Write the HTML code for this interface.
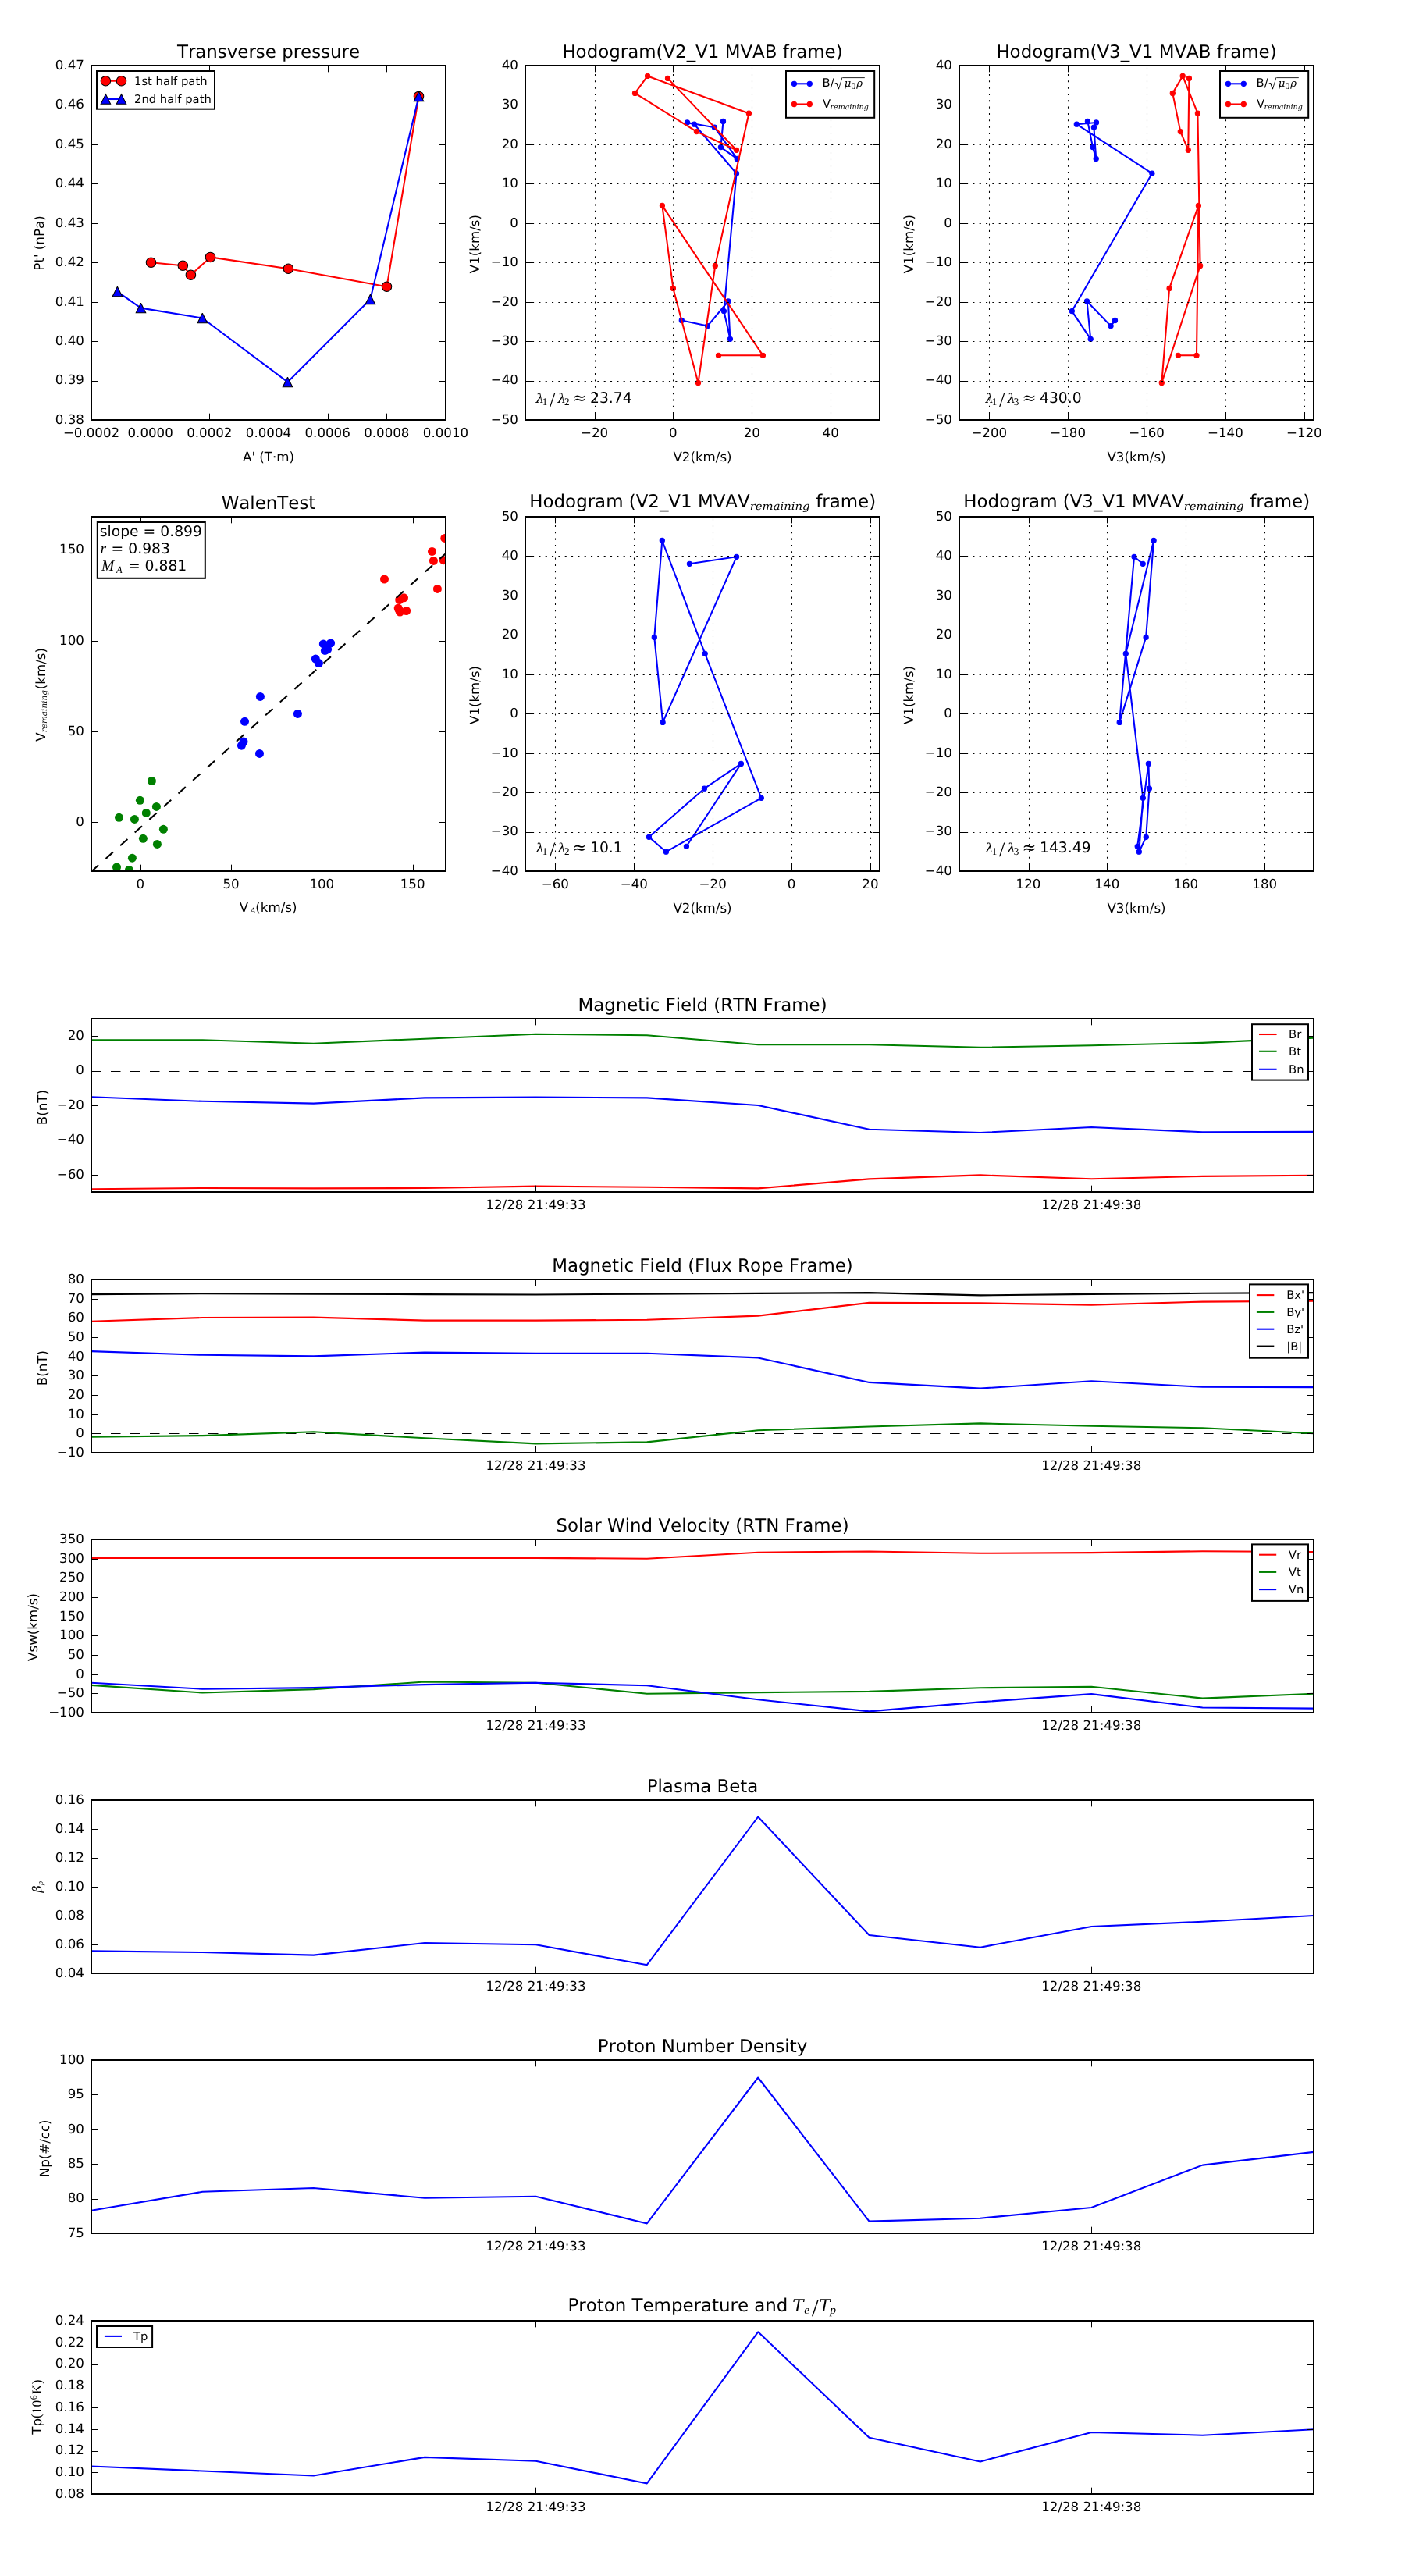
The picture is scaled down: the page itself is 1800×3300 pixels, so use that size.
<!DOCTYPE html>
<html><head><meta charset="utf-8"><title>Flux rope analysis</title><style>html,body{margin:0;padding:0;background:#fff;}svg{display:block;will-change:transform;font-kerning:none;}</style></head><body>
<svg xmlns="http://www.w3.org/2000/svg" width="1800" height="3300" viewBox="0 0 1800 3300" font-family="'DejaVu Sans', 'Liberation Sans', sans-serif" fill="#000" text-rendering="geometricPrecision">
<rect x="0" y="0" width="1800" height="3300" fill="#fff"/>
<clipPath id="c1"><rect x="117" y="84" width="454" height="454"/></clipPath>
<polyline points="193.5,336.3 234.3,340.3 244.4,352.3 269.5,329.4 369.4,344.3 495.5,367.3 536.5,123.4" fill="none" stroke="#ff0000" stroke-width="2.08" stroke-linejoin="round" stroke-linecap="butt" clip-path="url(#c1)"/>
<circle cx="193.5" cy="336.3" r="6.25" fill="#ff0000" stroke="#000" stroke-width="1.04"/>
<circle cx="234.3" cy="340.3" r="6.25" fill="#ff0000" stroke="#000" stroke-width="1.04"/>
<circle cx="244.4" cy="352.3" r="6.25" fill="#ff0000" stroke="#000" stroke-width="1.04"/>
<circle cx="269.5" cy="329.4" r="6.25" fill="#ff0000" stroke="#000" stroke-width="1.04"/>
<circle cx="369.4" cy="344.3" r="6.25" fill="#ff0000" stroke="#000" stroke-width="1.04"/>
<circle cx="495.5" cy="367.3" r="6.25" fill="#ff0000" stroke="#000" stroke-width="1.04"/>
<circle cx="536.5" cy="123.4" r="6.25" fill="#ff0000" stroke="#000" stroke-width="1.04"/>
<polyline points="150.4,373.6 180.5,394.6 259.3,407.5 368.5,489.4 474.4,383.5 536.5,123.4" fill="none" stroke="#0000ff" stroke-width="2.08" stroke-linejoin="round" stroke-linecap="butt" clip-path="url(#c1)"/>
<path d="M150.4,367.35 L144.15,379.85 L156.65,379.85 Z" fill="#0000ff" stroke="#000" stroke-width="1.04" stroke-linejoin="miter" stroke-miterlimit="2"/>
<path d="M180.5,388.35 L174.25,400.85 L186.75,400.85 Z" fill="#0000ff" stroke="#000" stroke-width="1.04" stroke-linejoin="miter" stroke-miterlimit="2"/>
<path d="M259.3,401.25 L253.05,413.75 L265.55,413.75 Z" fill="#0000ff" stroke="#000" stroke-width="1.04" stroke-linejoin="miter" stroke-miterlimit="2"/>
<path d="M368.5,483.15 L362.25,495.65 L374.75,495.65 Z" fill="#0000ff" stroke="#000" stroke-width="1.04" stroke-linejoin="miter" stroke-miterlimit="2"/>
<path d="M474.4,377.25 L468.15,389.75 L480.65,389.75 Z" fill="#0000ff" stroke="#000" stroke-width="1.04" stroke-linejoin="miter" stroke-miterlimit="2"/>
<path d="M536.5,117.15 L530.25,129.65 L542.75,129.65 Z" fill="#0000ff" stroke="#000" stroke-width="1.04" stroke-linejoin="miter" stroke-miterlimit="2"/>
<rect x="117" y="84" width="454" height="454" fill="none" stroke="#000" stroke-width="2"/>
<line x1="117" y1="538.5" x2="125.33" y2="538.5" stroke="#000000" stroke-width="1.04"/>
<line x1="571" y1="538.5" x2="562.67" y2="538.5" stroke="#000000" stroke-width="1.04"/>
<text x="107.9" y="542.85" font-size="16.67" text-anchor="end">0.38</text>
<line x1="117" y1="488.5" x2="125.33" y2="488.5" stroke="#000000" stroke-width="1.04"/>
<line x1="571" y1="488.5" x2="562.67" y2="488.5" stroke="#000000" stroke-width="1.04"/>
<text x="107.9" y="492.41" font-size="16.67" text-anchor="end">0.39</text>
<line x1="117" y1="437.5" x2="125.33" y2="437.5" stroke="#000000" stroke-width="1.04"/>
<line x1="571" y1="437.5" x2="562.67" y2="437.5" stroke="#000000" stroke-width="1.04"/>
<text x="107.9" y="441.96" font-size="16.67" text-anchor="end">0.40</text>
<line x1="117" y1="387.5" x2="125.33" y2="387.5" stroke="#000000" stroke-width="1.04"/>
<line x1="571" y1="387.5" x2="562.67" y2="387.5" stroke="#000000" stroke-width="1.04"/>
<text x="107.9" y="391.52" font-size="16.67" text-anchor="end">0.41</text>
<line x1="117" y1="336.5" x2="125.33" y2="336.5" stroke="#000000" stroke-width="1.04"/>
<line x1="571" y1="336.5" x2="562.67" y2="336.5" stroke="#000000" stroke-width="1.04"/>
<text x="107.9" y="341.07" font-size="16.67" text-anchor="end">0.42</text>
<line x1="117" y1="286.5" x2="125.33" y2="286.5" stroke="#000000" stroke-width="1.04"/>
<line x1="571" y1="286.5" x2="562.67" y2="286.5" stroke="#000000" stroke-width="1.04"/>
<text x="107.9" y="290.63" font-size="16.67" text-anchor="end">0.43</text>
<line x1="117" y1="235.5" x2="125.33" y2="235.5" stroke="#000000" stroke-width="1.04"/>
<line x1="571" y1="235.5" x2="562.67" y2="235.5" stroke="#000000" stroke-width="1.04"/>
<text x="107.9" y="240.18" font-size="16.67" text-anchor="end">0.44</text>
<line x1="117" y1="185.5" x2="125.33" y2="185.5" stroke="#000000" stroke-width="1.04"/>
<line x1="571" y1="185.5" x2="562.67" y2="185.5" stroke="#000000" stroke-width="1.04"/>
<text x="107.9" y="189.74" font-size="16.67" text-anchor="end">0.45</text>
<line x1="117" y1="134.5" x2="125.33" y2="134.5" stroke="#000000" stroke-width="1.04"/>
<line x1="571" y1="134.5" x2="562.67" y2="134.5" stroke="#000000" stroke-width="1.04"/>
<text x="107.9" y="139.29" font-size="16.67" text-anchor="end">0.46</text>
<line x1="117" y1="84.5" x2="125.33" y2="84.5" stroke="#000000" stroke-width="1.04"/>
<line x1="571" y1="84.5" x2="562.67" y2="84.5" stroke="#000000" stroke-width="1.04"/>
<text x="107.9" y="88.85" font-size="16.67" text-anchor="end">0.47</text>
<line x1="117.5" y1="538" x2="117.5" y2="529.67" stroke="#000000" stroke-width="1.04"/>
<line x1="117.5" y1="84" x2="117.5" y2="92.33" stroke="#000000" stroke-width="1.04"/>
<text x="117" y="559.6" font-size="16.67" text-anchor="middle">−0.0002</text>
<line x1="193.5" y1="538" x2="193.5" y2="529.67" stroke="#000000" stroke-width="1.04"/>
<line x1="193.5" y1="84" x2="193.5" y2="92.33" stroke="#000000" stroke-width="1.04"/>
<text x="192.67" y="559.6" font-size="16.67" text-anchor="middle">0.0000</text>
<line x1="268.5" y1="538" x2="268.5" y2="529.67" stroke="#000000" stroke-width="1.04"/>
<line x1="268.5" y1="84" x2="268.5" y2="92.33" stroke="#000000" stroke-width="1.04"/>
<text x="268.33" y="559.6" font-size="16.67" text-anchor="middle">0.0002</text>
<line x1="344.5" y1="538" x2="344.5" y2="529.67" stroke="#000000" stroke-width="1.04"/>
<line x1="344.5" y1="84" x2="344.5" y2="92.33" stroke="#000000" stroke-width="1.04"/>
<text x="344" y="559.6" font-size="16.67" text-anchor="middle">0.0004</text>
<line x1="420.5" y1="538" x2="420.5" y2="529.67" stroke="#000000" stroke-width="1.04"/>
<line x1="420.5" y1="84" x2="420.5" y2="92.33" stroke="#000000" stroke-width="1.04"/>
<text x="419.67" y="559.6" font-size="16.67" text-anchor="middle">0.0006</text>
<line x1="495.5" y1="538" x2="495.5" y2="529.67" stroke="#000000" stroke-width="1.04"/>
<line x1="495.5" y1="84" x2="495.5" y2="92.33" stroke="#000000" stroke-width="1.04"/>
<text x="495.33" y="559.6" font-size="16.67" text-anchor="middle">0.0008</text>
<line x1="571.5" y1="538" x2="571.5" y2="529.67" stroke="#000000" stroke-width="1.04"/>
<line x1="571.5" y1="84" x2="571.5" y2="92.33" stroke="#000000" stroke-width="1.04"/>
<text x="571" y="559.6" font-size="16.67" text-anchor="middle">0.0010</text>
<text x="344" y="73.7" font-size="22.92" text-anchor="middle">Transverse pressure</text>
<text x="344" y="590.7" font-size="16.67" text-anchor="middle">A' (T·m)</text>
<text x="-346.64" y="56" font-size="16.67" font-family="'DejaVu Sans'" transform="rotate(-90)">Pt' (nPa)</text>
<rect x="124" y="91" width="151" height="48.7" fill="#fff" stroke="#000" stroke-width="2"/>
<line x1="135.4" y1="103.7" x2="155.5" y2="103.7" stroke="#ff0000" stroke-width="2.08"/>
<circle cx="135.4" cy="103.7" r="6.25" fill="#ff0000" stroke="#000" stroke-width="1.04"/>
<circle cx="155.5" cy="103.7" r="6.25" fill="#ff0000" stroke="#000" stroke-width="1.04"/>
<line x1="135.4" y1="127" x2="155.5" y2="127" stroke="#0000ff" stroke-width="2.08"/>
<path d="M135.4,120.75 L129.15,133.25 L141.65,133.25 Z" fill="#0000ff" stroke="#000" stroke-width="1.04"/>
<path d="M155.5,120.75 L149.25,133.25 L161.75,133.25 Z" fill="#0000ff" stroke="#000" stroke-width="1.04"/>
<text x="172" y="109" font-size="14.78" text-anchor="start">1st half path</text>
<text x="172" y="132.3" font-size="14.78" text-anchor="start">2nd half path</text>
<clipPath id="c2"><rect x="673" y="84" width="454" height="454"/></clipPath>
<polyline points="926.5,155.4 923.4,188.6 944.2,203.4 915.4,163.2 880.5,157 889.5,159.2 943.5,222.2 927.4,398.6 935.4,434.3 932.9,386 906.5,417.6 873.3,410.5" fill="none" stroke="#0000ff" stroke-width="2.08" stroke-linejoin="round" stroke-linecap="butt" clip-path="url(#c2)"/>
<circle cx="926.5" cy="155.4" r="3.12" fill="#0000ff" stroke="#0000ff" stroke-width="1.04" clip-path="url(#c2)"/>
<circle cx="923.4" cy="188.6" r="3.12" fill="#0000ff" stroke="#0000ff" stroke-width="1.04" clip-path="url(#c2)"/>
<circle cx="944.2" cy="203.4" r="3.12" fill="#0000ff" stroke="#0000ff" stroke-width="1.04" clip-path="url(#c2)"/>
<circle cx="915.4" cy="163.2" r="3.12" fill="#0000ff" stroke="#0000ff" stroke-width="1.04" clip-path="url(#c2)"/>
<circle cx="880.5" cy="157" r="3.12" fill="#0000ff" stroke="#0000ff" stroke-width="1.04" clip-path="url(#c2)"/>
<circle cx="889.5" cy="159.2" r="3.12" fill="#0000ff" stroke="#0000ff" stroke-width="1.04" clip-path="url(#c2)"/>
<circle cx="943.5" cy="222.2" r="3.12" fill="#0000ff" stroke="#0000ff" stroke-width="1.04" clip-path="url(#c2)"/>
<circle cx="927.4" cy="398.6" r="3.12" fill="#0000ff" stroke="#0000ff" stroke-width="1.04" clip-path="url(#c2)"/>
<circle cx="935.4" cy="434.3" r="3.12" fill="#0000ff" stroke="#0000ff" stroke-width="1.04" clip-path="url(#c2)"/>
<circle cx="932.9" cy="386" r="3.12" fill="#0000ff" stroke="#0000ff" stroke-width="1.04" clip-path="url(#c2)"/>
<circle cx="906.5" cy="417.6" r="3.12" fill="#0000ff" stroke="#0000ff" stroke-width="1.04" clip-path="url(#c2)"/>
<circle cx="873.3" cy="410.5" r="3.12" fill="#0000ff" stroke="#0000ff" stroke-width="1.04" clip-path="url(#c2)"/>
<polyline points="920.5,455.3 977.4,455.3 848.4,263.4 862.4,369.4 894.5,490.5 916.3,340.4 959.4,145.2 829.6,97.4 813.5,119.4 892.4,168.6 943.5,192.3 855.5,100.4" fill="none" stroke="#ff0000" stroke-width="2.08" stroke-linejoin="round" stroke-linecap="butt" clip-path="url(#c2)"/>
<circle cx="920.5" cy="455.3" r="3.12" fill="#ff0000" stroke="#ff0000" stroke-width="1.04" clip-path="url(#c2)"/>
<circle cx="977.4" cy="455.3" r="3.12" fill="#ff0000" stroke="#ff0000" stroke-width="1.04" clip-path="url(#c2)"/>
<circle cx="848.4" cy="263.4" r="3.12" fill="#ff0000" stroke="#ff0000" stroke-width="1.04" clip-path="url(#c2)"/>
<circle cx="862.4" cy="369.4" r="3.12" fill="#ff0000" stroke="#ff0000" stroke-width="1.04" clip-path="url(#c2)"/>
<circle cx="894.5" cy="490.5" r="3.12" fill="#ff0000" stroke="#ff0000" stroke-width="1.04" clip-path="url(#c2)"/>
<circle cx="916.3" cy="340.4" r="3.12" fill="#ff0000" stroke="#ff0000" stroke-width="1.04" clip-path="url(#c2)"/>
<circle cx="959.4" cy="145.2" r="3.12" fill="#ff0000" stroke="#ff0000" stroke-width="1.04" clip-path="url(#c2)"/>
<circle cx="829.6" cy="97.4" r="3.12" fill="#ff0000" stroke="#ff0000" stroke-width="1.04" clip-path="url(#c2)"/>
<circle cx="813.5" cy="119.4" r="3.12" fill="#ff0000" stroke="#ff0000" stroke-width="1.04" clip-path="url(#c2)"/>
<circle cx="892.4" cy="168.6" r="3.12" fill="#ff0000" stroke="#ff0000" stroke-width="1.04" clip-path="url(#c2)"/>
<circle cx="943.5" cy="192.3" r="3.12" fill="#ff0000" stroke="#ff0000" stroke-width="1.04" clip-path="url(#c2)"/>
<circle cx="855.5" cy="100.4" r="3.12" fill="#ff0000" stroke="#ff0000" stroke-width="1.04" clip-path="url(#c2)"/>
<line x1="762.5" y1="538" x2="762.5" y2="84" stroke="#000000" stroke-width="1.04" stroke-dasharray="2.08 6.25" stroke-dashoffset="0.5"/>
<line x1="862.5" y1="538" x2="862.5" y2="84" stroke="#000000" stroke-width="1.04" stroke-dasharray="2.08 6.25" stroke-dashoffset="0.5"/>
<line x1="963.5" y1="538" x2="963.5" y2="84" stroke="#000000" stroke-width="1.04" stroke-dasharray="2.08 6.25" stroke-dashoffset="0.5"/>
<line x1="1064.5" y1="538" x2="1064.5" y2="84" stroke="#000000" stroke-width="1.04" stroke-dasharray="2.08 6.25" stroke-dashoffset="0.5"/>
<line x1="673" y1="488.5" x2="1127" y2="488.5" stroke="#000000" stroke-width="1.04" stroke-dasharray="2.08 6.25" stroke-dashoffset="-0.7"/>
<line x1="673" y1="437.5" x2="1127" y2="437.5" stroke="#000000" stroke-width="1.04" stroke-dasharray="2.08 6.25" stroke-dashoffset="-0.7"/>
<line x1="673" y1="387.5" x2="1127" y2="387.5" stroke="#000000" stroke-width="1.04" stroke-dasharray="2.08 6.25" stroke-dashoffset="-0.7"/>
<line x1="673" y1="336.5" x2="1127" y2="336.5" stroke="#000000" stroke-width="1.04" stroke-dasharray="2.08 6.25" stroke-dashoffset="-0.7"/>
<line x1="673" y1="286.5" x2="1127" y2="286.5" stroke="#000000" stroke-width="1.04" stroke-dasharray="2.08 6.25" stroke-dashoffset="-0.7"/>
<line x1="673" y1="235.5" x2="1127" y2="235.5" stroke="#000000" stroke-width="1.04" stroke-dasharray="2.08 6.25" stroke-dashoffset="-0.7"/>
<line x1="673" y1="185.5" x2="1127" y2="185.5" stroke="#000000" stroke-width="1.04" stroke-dasharray="2.08 6.25" stroke-dashoffset="-0.7"/>
<line x1="673" y1="134.5" x2="1127" y2="134.5" stroke="#000000" stroke-width="1.04" stroke-dasharray="2.08 6.25" stroke-dashoffset="-0.7"/>
<rect x="673" y="84" width="454" height="454" fill="none" stroke="#000" stroke-width="2"/>
<line x1="673" y1="538.5" x2="681.33" y2="538.5" stroke="#000000" stroke-width="1.04"/>
<line x1="1127" y1="538.5" x2="1118.67" y2="538.5" stroke="#000000" stroke-width="1.04"/>
<text x="663.9" y="542.85" font-size="16.67" text-anchor="end">−50</text>
<line x1="673" y1="488.5" x2="681.33" y2="488.5" stroke="#000000" stroke-width="1.04"/>
<line x1="1127" y1="488.5" x2="1118.67" y2="488.5" stroke="#000000" stroke-width="1.04"/>
<text x="663.9" y="492.41" font-size="16.67" text-anchor="end">−40</text>
<line x1="673" y1="437.5" x2="681.33" y2="437.5" stroke="#000000" stroke-width="1.04"/>
<line x1="1127" y1="437.5" x2="1118.67" y2="437.5" stroke="#000000" stroke-width="1.04"/>
<text x="663.9" y="441.96" font-size="16.67" text-anchor="end">−30</text>
<line x1="673" y1="387.5" x2="681.33" y2="387.5" stroke="#000000" stroke-width="1.04"/>
<line x1="1127" y1="387.5" x2="1118.67" y2="387.5" stroke="#000000" stroke-width="1.04"/>
<text x="663.9" y="391.52" font-size="16.67" text-anchor="end">−20</text>
<line x1="673" y1="336.5" x2="681.33" y2="336.5" stroke="#000000" stroke-width="1.04"/>
<line x1="1127" y1="336.5" x2="1118.67" y2="336.5" stroke="#000000" stroke-width="1.04"/>
<text x="663.9" y="341.07" font-size="16.67" text-anchor="end">−10</text>
<line x1="673" y1="286.5" x2="681.33" y2="286.5" stroke="#000000" stroke-width="1.04"/>
<line x1="1127" y1="286.5" x2="1118.67" y2="286.5" stroke="#000000" stroke-width="1.04"/>
<text x="663.9" y="290.63" font-size="16.67" text-anchor="end">0</text>
<line x1="673" y1="235.5" x2="681.33" y2="235.5" stroke="#000000" stroke-width="1.04"/>
<line x1="1127" y1="235.5" x2="1118.67" y2="235.5" stroke="#000000" stroke-width="1.04"/>
<text x="663.9" y="240.18" font-size="16.67" text-anchor="end">10</text>
<line x1="673" y1="185.5" x2="681.33" y2="185.5" stroke="#000000" stroke-width="1.04"/>
<line x1="1127" y1="185.5" x2="1118.67" y2="185.5" stroke="#000000" stroke-width="1.04"/>
<text x="663.9" y="189.74" font-size="16.67" text-anchor="end">20</text>
<line x1="673" y1="134.5" x2="681.33" y2="134.5" stroke="#000000" stroke-width="1.04"/>
<line x1="1127" y1="134.5" x2="1118.67" y2="134.5" stroke="#000000" stroke-width="1.04"/>
<text x="663.9" y="139.29" font-size="16.67" text-anchor="end">30</text>
<line x1="673" y1="84.5" x2="681.33" y2="84.5" stroke="#000000" stroke-width="1.04"/>
<line x1="1127" y1="84.5" x2="1118.67" y2="84.5" stroke="#000000" stroke-width="1.04"/>
<text x="663.9" y="88.85" font-size="16.67" text-anchor="end">40</text>
<line x1="762.5" y1="538" x2="762.5" y2="529.67" stroke="#000000" stroke-width="1.04"/>
<line x1="762.5" y1="84" x2="762.5" y2="92.33" stroke="#000000" stroke-width="1.04"/>
<text x="761.51" y="559.6" font-size="16.67" text-anchor="middle">−20</text>
<line x1="862.5" y1="538" x2="862.5" y2="529.67" stroke="#000000" stroke-width="1.04"/>
<line x1="862.5" y1="84" x2="862.5" y2="92.33" stroke="#000000" stroke-width="1.04"/>
<text x="862.4" y="559.6" font-size="16.67" text-anchor="middle">0</text>
<line x1="963.5" y1="538" x2="963.5" y2="529.67" stroke="#000000" stroke-width="1.04"/>
<line x1="963.5" y1="84" x2="963.5" y2="92.33" stroke="#000000" stroke-width="1.04"/>
<text x="963.29" y="559.6" font-size="16.67" text-anchor="middle">20</text>
<line x1="1064.5" y1="538" x2="1064.5" y2="529.67" stroke="#000000" stroke-width="1.04"/>
<line x1="1064.5" y1="84" x2="1064.5" y2="92.33" stroke="#000000" stroke-width="1.04"/>
<text x="1064.18" y="559.6" font-size="16.67" text-anchor="middle">40</text>
<text x="900" y="73.7" font-size="22.92" text-anchor="middle">Hodogram(V2_V1 MVAB frame)</text>
<text x="900" y="590.7" font-size="16.67" text-anchor="middle">V2(km/s)</text>
<text x="-350.13" y="613.85" font-size="16.67" font-family="'DejaVu Sans'" transform="rotate(-90)">V1(km/s)</text>
<rect x="1007" y="91" width="113.2" height="59.8" fill="#fff" stroke="#000" stroke-width="2"/>
<line x1="1017.4" y1="107.3" x2="1037.3" y2="107.3" stroke="#0000ff" stroke-width="2.08"/>
<circle cx="1017.4" cy="107.3" r="3.12" fill="#0000ff" stroke="#0000ff" stroke-width="1.04"/>
<circle cx="1037.3" cy="107.3" r="3.12" fill="#0000ff" stroke="#0000ff" stroke-width="1.04"/>
<line x1="1017.4" y1="133.5" x2="1037.3" y2="133.5" stroke="#ff0000" stroke-width="2.08"/>
<circle cx="1017.4" cy="133.5" r="3.12" fill="#ff0000" stroke="#ff0000" stroke-width="1.04"/>
<circle cx="1037.3" cy="133.5" r="3.12" fill="#ff0000" stroke="#ff0000" stroke-width="1.04"/>
<text x="1053.55" y="110.8" font-size="14.78" font-family="'DejaVu Sans'">B/</text>
<text x="1069.24" y="113.8" font-size="18.5" font-family="'Liberation Serif'">√</text>
<line x1="1079.4" y1="99.6" x2="1107.8" y2="99.6" stroke="#000000" stroke-width="0.85"/>
<text x="1081.5" y="110.7" font-size="13.6" font-family="'DejaVu Serif'" font-style="italic">μ</text>
<text x="1090.46" y="113.6" font-size="11.5" font-family="'Liberation Serif'">0</text>
<text x="1097.22" y="110.7" font-size="13.2" font-family="'DejaVu Serif'" font-style="italic">ρ</text>
<text x="1053.88" y="137.9" font-size="14.78" font-family="'DejaVu Sans'">V</text>
<text x="1063.53" y="139.7" font-size="9.5" font-family="'DejaVu Serif'" font-style="italic">remaining</text>
<text x="686.54" y="516" font-size="16.5" font-family="'DejaVu Serif'" font-style="italic">λ</text>
<text x="694.84" y="518.8" font-size="13.2" font-family="'Liberation Serif'">1</text>
<text x="703.9" y="520.5" font-size="26.5" font-family="'Liberation Serif'">/</text>
<text x="714.44" y="516" font-size="16.5" font-family="'DejaVu Serif'" font-style="italic">λ</text>
<text x="722.92" y="518.8" font-size="13.2" font-family="'Liberation Serif'">2</text>
<text x="733.52" y="517.4" font-size="21.5" font-family="'DejaVu Serif'">≈</text>
<text x="756" y="516" font-size="18.75" font-family="'DejaVu Sans'">23.74</text>
<clipPath id="c3"><rect x="1229" y="84" width="454" height="454"/></clipPath>
<polyline points="1393.4,155.4 1400,188.6 1404.2,203.4 1401.4,163.2 1404.5,157 1379.3,159.2 1475.9,222.2 1373.3,398.6 1397.2,434.3 1392.5,386 1423.1,417.6 1428.5,410.5" fill="none" stroke="#0000ff" stroke-width="2.08" stroke-linejoin="round" stroke-linecap="butt" clip-path="url(#c3)"/>
<circle cx="1393.4" cy="155.4" r="3.12" fill="#0000ff" stroke="#0000ff" stroke-width="1.04" clip-path="url(#c3)"/>
<circle cx="1400" cy="188.6" r="3.12" fill="#0000ff" stroke="#0000ff" stroke-width="1.04" clip-path="url(#c3)"/>
<circle cx="1404.2" cy="203.4" r="3.12" fill="#0000ff" stroke="#0000ff" stroke-width="1.04" clip-path="url(#c3)"/>
<circle cx="1401.4" cy="163.2" r="3.12" fill="#0000ff" stroke="#0000ff" stroke-width="1.04" clip-path="url(#c3)"/>
<circle cx="1404.5" cy="157" r="3.12" fill="#0000ff" stroke="#0000ff" stroke-width="1.04" clip-path="url(#c3)"/>
<circle cx="1379.3" cy="159.2" r="3.12" fill="#0000ff" stroke="#0000ff" stroke-width="1.04" clip-path="url(#c3)"/>
<circle cx="1475.9" cy="222.2" r="3.12" fill="#0000ff" stroke="#0000ff" stroke-width="1.04" clip-path="url(#c3)"/>
<circle cx="1373.3" cy="398.6" r="3.12" fill="#0000ff" stroke="#0000ff" stroke-width="1.04" clip-path="url(#c3)"/>
<circle cx="1397.2" cy="434.3" r="3.12" fill="#0000ff" stroke="#0000ff" stroke-width="1.04" clip-path="url(#c3)"/>
<circle cx="1392.5" cy="386" r="3.12" fill="#0000ff" stroke="#0000ff" stroke-width="1.04" clip-path="url(#c3)"/>
<circle cx="1423.1" cy="417.6" r="3.12" fill="#0000ff" stroke="#0000ff" stroke-width="1.04" clip-path="url(#c3)"/>
<circle cx="1428.5" cy="410.5" r="3.12" fill="#0000ff" stroke="#0000ff" stroke-width="1.04" clip-path="url(#c3)"/>
<polyline points="1509.4,455.3 1533,455.3 1535.4,263.4 1498.1,369.4 1488.3,490.5 1537.6,340.4 1534.4,145.2 1515.2,97.4 1502.3,119.4 1512.3,168.6 1522.3,192.3 1523.4,100.4" fill="none" stroke="#ff0000" stroke-width="2.08" stroke-linejoin="round" stroke-linecap="butt" clip-path="url(#c3)"/>
<circle cx="1509.4" cy="455.3" r="3.12" fill="#ff0000" stroke="#ff0000" stroke-width="1.04" clip-path="url(#c3)"/>
<circle cx="1533" cy="455.3" r="3.12" fill="#ff0000" stroke="#ff0000" stroke-width="1.04" clip-path="url(#c3)"/>
<circle cx="1535.4" cy="263.4" r="3.12" fill="#ff0000" stroke="#ff0000" stroke-width="1.04" clip-path="url(#c3)"/>
<circle cx="1498.1" cy="369.4" r="3.12" fill="#ff0000" stroke="#ff0000" stroke-width="1.04" clip-path="url(#c3)"/>
<circle cx="1488.3" cy="490.5" r="3.12" fill="#ff0000" stroke="#ff0000" stroke-width="1.04" clip-path="url(#c3)"/>
<circle cx="1537.6" cy="340.4" r="3.12" fill="#ff0000" stroke="#ff0000" stroke-width="1.04" clip-path="url(#c3)"/>
<circle cx="1534.4" cy="145.2" r="3.12" fill="#ff0000" stroke="#ff0000" stroke-width="1.04" clip-path="url(#c3)"/>
<circle cx="1515.2" cy="97.4" r="3.12" fill="#ff0000" stroke="#ff0000" stroke-width="1.04" clip-path="url(#c3)"/>
<circle cx="1502.3" cy="119.4" r="3.12" fill="#ff0000" stroke="#ff0000" stroke-width="1.04" clip-path="url(#c3)"/>
<circle cx="1512.3" cy="168.6" r="3.12" fill="#ff0000" stroke="#ff0000" stroke-width="1.04" clip-path="url(#c3)"/>
<circle cx="1522.3" cy="192.3" r="3.12" fill="#ff0000" stroke="#ff0000" stroke-width="1.04" clip-path="url(#c3)"/>
<circle cx="1523.4" cy="100.4" r="3.12" fill="#ff0000" stroke="#ff0000" stroke-width="1.04" clip-path="url(#c3)"/>
<line x1="1267.5" y1="538" x2="1267.5" y2="84" stroke="#000000" stroke-width="1.04" stroke-dasharray="2.08 6.25" stroke-dashoffset="0.5"/>
<line x1="1368.5" y1="538" x2="1368.5" y2="84" stroke="#000000" stroke-width="1.04" stroke-dasharray="2.08 6.25" stroke-dashoffset="0.5"/>
<line x1="1469.5" y1="538" x2="1469.5" y2="84" stroke="#000000" stroke-width="1.04" stroke-dasharray="2.08 6.25" stroke-dashoffset="0.5"/>
<line x1="1570.5" y1="538" x2="1570.5" y2="84" stroke="#000000" stroke-width="1.04" stroke-dasharray="2.08 6.25" stroke-dashoffset="0.5"/>
<line x1="1671.5" y1="538" x2="1671.5" y2="84" stroke="#000000" stroke-width="1.04" stroke-dasharray="2.08 6.25" stroke-dashoffset="0.5"/>
<line x1="1229" y1="488.5" x2="1683" y2="488.5" stroke="#000000" stroke-width="1.04" stroke-dasharray="2.08 6.25" stroke-dashoffset="-0.7"/>
<line x1="1229" y1="437.5" x2="1683" y2="437.5" stroke="#000000" stroke-width="1.04" stroke-dasharray="2.08 6.25" stroke-dashoffset="-0.7"/>
<line x1="1229" y1="387.5" x2="1683" y2="387.5" stroke="#000000" stroke-width="1.04" stroke-dasharray="2.08 6.25" stroke-dashoffset="-0.7"/>
<line x1="1229" y1="336.5" x2="1683" y2="336.5" stroke="#000000" stroke-width="1.04" stroke-dasharray="2.08 6.25" stroke-dashoffset="-0.7"/>
<line x1="1229" y1="286.5" x2="1683" y2="286.5" stroke="#000000" stroke-width="1.04" stroke-dasharray="2.08 6.25" stroke-dashoffset="-0.7"/>
<line x1="1229" y1="235.5" x2="1683" y2="235.5" stroke="#000000" stroke-width="1.04" stroke-dasharray="2.08 6.25" stroke-dashoffset="-0.7"/>
<line x1="1229" y1="185.5" x2="1683" y2="185.5" stroke="#000000" stroke-width="1.04" stroke-dasharray="2.08 6.25" stroke-dashoffset="-0.7"/>
<line x1="1229" y1="134.5" x2="1683" y2="134.5" stroke="#000000" stroke-width="1.04" stroke-dasharray="2.08 6.25" stroke-dashoffset="-0.7"/>
<rect x="1229" y="84" width="454" height="454" fill="none" stroke="#000" stroke-width="2"/>
<line x1="1229" y1="538.5" x2="1237.33" y2="538.5" stroke="#000000" stroke-width="1.04"/>
<line x1="1683" y1="538.5" x2="1674.67" y2="538.5" stroke="#000000" stroke-width="1.04"/>
<text x="1219.9" y="542.85" font-size="16.67" text-anchor="end">−50</text>
<line x1="1229" y1="488.5" x2="1237.33" y2="488.5" stroke="#000000" stroke-width="1.04"/>
<line x1="1683" y1="488.5" x2="1674.67" y2="488.5" stroke="#000000" stroke-width="1.04"/>
<text x="1219.9" y="492.41" font-size="16.67" text-anchor="end">−40</text>
<line x1="1229" y1="437.5" x2="1237.33" y2="437.5" stroke="#000000" stroke-width="1.04"/>
<line x1="1683" y1="437.5" x2="1674.67" y2="437.5" stroke="#000000" stroke-width="1.04"/>
<text x="1219.9" y="441.96" font-size="16.67" text-anchor="end">−30</text>
<line x1="1229" y1="387.5" x2="1237.33" y2="387.5" stroke="#000000" stroke-width="1.04"/>
<line x1="1683" y1="387.5" x2="1674.67" y2="387.5" stroke="#000000" stroke-width="1.04"/>
<text x="1219.9" y="391.52" font-size="16.67" text-anchor="end">−20</text>
<line x1="1229" y1="336.5" x2="1237.33" y2="336.5" stroke="#000000" stroke-width="1.04"/>
<line x1="1683" y1="336.5" x2="1674.67" y2="336.5" stroke="#000000" stroke-width="1.04"/>
<text x="1219.9" y="341.07" font-size="16.67" text-anchor="end">−10</text>
<line x1="1229" y1="286.5" x2="1237.33" y2="286.5" stroke="#000000" stroke-width="1.04"/>
<line x1="1683" y1="286.5" x2="1674.67" y2="286.5" stroke="#000000" stroke-width="1.04"/>
<text x="1219.9" y="290.63" font-size="16.67" text-anchor="end">0</text>
<line x1="1229" y1="235.5" x2="1237.33" y2="235.5" stroke="#000000" stroke-width="1.04"/>
<line x1="1683" y1="235.5" x2="1674.67" y2="235.5" stroke="#000000" stroke-width="1.04"/>
<text x="1219.9" y="240.18" font-size="16.67" text-anchor="end">10</text>
<line x1="1229" y1="185.5" x2="1237.33" y2="185.5" stroke="#000000" stroke-width="1.04"/>
<line x1="1683" y1="185.5" x2="1674.67" y2="185.5" stroke="#000000" stroke-width="1.04"/>
<text x="1219.9" y="189.74" font-size="16.67" text-anchor="end">20</text>
<line x1="1229" y1="134.5" x2="1237.33" y2="134.5" stroke="#000000" stroke-width="1.04"/>
<line x1="1683" y1="134.5" x2="1674.67" y2="134.5" stroke="#000000" stroke-width="1.04"/>
<text x="1219.9" y="139.29" font-size="16.67" text-anchor="end">30</text>
<line x1="1229" y1="84.5" x2="1237.33" y2="84.5" stroke="#000000" stroke-width="1.04"/>
<line x1="1683" y1="84.5" x2="1674.67" y2="84.5" stroke="#000000" stroke-width="1.04"/>
<text x="1219.9" y="88.85" font-size="16.67" text-anchor="end">40</text>
<line x1="1267.5" y1="538" x2="1267.5" y2="529.67" stroke="#000000" stroke-width="1.04"/>
<line x1="1267.5" y1="84" x2="1267.5" y2="92.33" stroke="#000000" stroke-width="1.04"/>
<text x="1267.28" y="559.6" font-size="16.67" text-anchor="middle">−200</text>
<line x1="1368.5" y1="538" x2="1368.5" y2="529.67" stroke="#000000" stroke-width="1.04"/>
<line x1="1368.5" y1="84" x2="1368.5" y2="92.33" stroke="#000000" stroke-width="1.04"/>
<text x="1368.17" y="559.6" font-size="16.67" text-anchor="middle">−180</text>
<line x1="1469.5" y1="538" x2="1469.5" y2="529.67" stroke="#000000" stroke-width="1.04"/>
<line x1="1469.5" y1="84" x2="1469.5" y2="92.33" stroke="#000000" stroke-width="1.04"/>
<text x="1469.06" y="559.6" font-size="16.67" text-anchor="middle">−160</text>
<line x1="1570.5" y1="538" x2="1570.5" y2="529.67" stroke="#000000" stroke-width="1.04"/>
<line x1="1570.5" y1="84" x2="1570.5" y2="92.33" stroke="#000000" stroke-width="1.04"/>
<text x="1569.95" y="559.6" font-size="16.67" text-anchor="middle">−140</text>
<line x1="1671.5" y1="538" x2="1671.5" y2="529.67" stroke="#000000" stroke-width="1.04"/>
<line x1="1671.5" y1="84" x2="1671.5" y2="92.33" stroke="#000000" stroke-width="1.04"/>
<text x="1670.84" y="559.6" font-size="16.67" text-anchor="middle">−120</text>
<text x="1456" y="73.7" font-size="22.92" text-anchor="middle">Hodogram(V3_V1 MVAB frame)</text>
<text x="1456" y="590.7" font-size="16.67" text-anchor="middle">V3(km/s)</text>
<text x="-350.13" y="1169.85" font-size="16.67" font-family="'DejaVu Sans'" transform="rotate(-90)">V1(km/s)</text>
<rect x="1563" y="91" width="113.2" height="59.8" fill="#fff" stroke="#000" stroke-width="2"/>
<line x1="1573.4" y1="107.3" x2="1593.3" y2="107.3" stroke="#0000ff" stroke-width="2.08"/>
<circle cx="1573.4" cy="107.3" r="3.12" fill="#0000ff" stroke="#0000ff" stroke-width="1.04"/>
<circle cx="1593.3" cy="107.3" r="3.12" fill="#0000ff" stroke="#0000ff" stroke-width="1.04"/>
<line x1="1573.4" y1="133.5" x2="1593.3" y2="133.5" stroke="#ff0000" stroke-width="2.08"/>
<circle cx="1573.4" cy="133.5" r="3.12" fill="#ff0000" stroke="#ff0000" stroke-width="1.04"/>
<circle cx="1593.3" cy="133.5" r="3.12" fill="#ff0000" stroke="#ff0000" stroke-width="1.04"/>
<text x="1609.55" y="110.8" font-size="14.78" font-family="'DejaVu Sans'">B/</text>
<text x="1625.24" y="113.8" font-size="18.5" font-family="'Liberation Serif'">√</text>
<line x1="1635.4" y1="99.6" x2="1663.8" y2="99.6" stroke="#000000" stroke-width="0.85"/>
<text x="1637.5" y="110.7" font-size="13.6" font-family="'DejaVu Serif'" font-style="italic">μ</text>
<text x="1646.46" y="113.6" font-size="11.5" font-family="'Liberation Serif'">0</text>
<text x="1653.22" y="110.7" font-size="13.2" font-family="'DejaVu Serif'" font-style="italic">ρ</text>
<text x="1609.88" y="137.9" font-size="14.78" font-family="'DejaVu Sans'">V</text>
<text x="1619.53" y="139.7" font-size="9.5" font-family="'DejaVu Serif'" font-style="italic">remaining</text>
<text x="1262.54" y="516" font-size="16.5" font-family="'DejaVu Serif'" font-style="italic">λ</text>
<text x="1270.84" y="518.8" font-size="13.2" font-family="'Liberation Serif'">1</text>
<text x="1279.9" y="520.5" font-size="26.5" font-family="'Liberation Serif'">/</text>
<text x="1290.44" y="516" font-size="16.5" font-family="'DejaVu Serif'" font-style="italic">λ</text>
<text x="1298.87" y="518.8" font-size="13.2" font-family="'Liberation Serif'">3</text>
<text x="1309.52" y="517.4" font-size="21.5" font-family="'DejaVu Serif'">≈</text>
<text x="1332" y="516" font-size="18.75" font-family="'DejaVu Sans'">430.0</text>
<clipPath id="c4"><rect x="117" y="662" width="454" height="454"/></clipPath>
<circle cx="194.4" cy="1000.4" r="5.5" fill="#008000" clip-path="url(#c4)"/>
<circle cx="179.4" cy="1025.3" r="5.5" fill="#008000" clip-path="url(#c4)"/>
<circle cx="200.4" cy="1033.4" r="5.5" fill="#008000" clip-path="url(#c4)"/>
<circle cx="187.3" cy="1041.4" r="5.5" fill="#008000" clip-path="url(#c4)"/>
<circle cx="152.5" cy="1047.3" r="5.5" fill="#008000" clip-path="url(#c4)"/>
<circle cx="172.4" cy="1049.4" r="5.5" fill="#008000" clip-path="url(#c4)"/>
<circle cx="209.4" cy="1062.3" r="5.5" fill="#008000" clip-path="url(#c4)"/>
<circle cx="183.4" cy="1074.3" r="5.5" fill="#008000" clip-path="url(#c4)"/>
<circle cx="201.4" cy="1081.4" r="5.5" fill="#008000" clip-path="url(#c4)"/>
<circle cx="169.4" cy="1099.2" r="5.5" fill="#008000" clip-path="url(#c4)"/>
<circle cx="149.5" cy="1111" r="5.5" fill="#008000" clip-path="url(#c4)"/>
<circle cx="165.4" cy="1114.5" r="5.5" fill="#008000" clip-path="url(#c4)"/>
<circle cx="333.4" cy="892.4" r="5.5" fill="#0000ff" clip-path="url(#c4)"/>
<circle cx="313.5" cy="924.3" r="5.5" fill="#0000ff" clip-path="url(#c4)"/>
<circle cx="381.4" cy="914.4" r="5.5" fill="#0000ff" clip-path="url(#c4)"/>
<circle cx="404.3" cy="844.1" r="5.5" fill="#0000ff" clip-path="url(#c4)"/>
<circle cx="408.4" cy="849.5" r="5.5" fill="#0000ff" clip-path="url(#c4)"/>
<circle cx="414.3" cy="824.9" r="5.5" fill="#0000ff" clip-path="url(#c4)"/>
<circle cx="423.6" cy="823.9" r="5.5" fill="#0000ff" clip-path="url(#c4)"/>
<circle cx="416.4" cy="833.4" r="5.5" fill="#0000ff" clip-path="url(#c4)"/>
<circle cx="419.6" cy="831.9" r="5.5" fill="#0000ff" clip-path="url(#c4)"/>
<circle cx="312" cy="950.1" r="5.5" fill="#0000ff" clip-path="url(#c4)"/>
<circle cx="309.4" cy="955.2" r="5.5" fill="#0000ff" clip-path="url(#c4)"/>
<circle cx="332.5" cy="965.4" r="5.5" fill="#0000ff" clip-path="url(#c4)"/>
<circle cx="569.8" cy="689.4" r="5.5" fill="#ff0000" clip-path="url(#c4)"/>
<circle cx="553.5" cy="706.4" r="5.5" fill="#ff0000" clip-path="url(#c4)"/>
<circle cx="555.4" cy="718.4" r="5.5" fill="#ff0000" clip-path="url(#c4)"/>
<circle cx="568.3" cy="717.7" r="5.5" fill="#ff0000" clip-path="url(#c4)"/>
<circle cx="492.5" cy="742" r="5.5" fill="#ff0000" clip-path="url(#c4)"/>
<circle cx="560.4" cy="754.4" r="5.5" fill="#ff0000" clip-path="url(#c4)"/>
<circle cx="517.5" cy="765.8" r="5.5" fill="#ff0000" clip-path="url(#c4)"/>
<circle cx="511.7" cy="768.5" r="5.5" fill="#ff0000" clip-path="url(#c4)"/>
<circle cx="510.2" cy="779.1" r="5.5" fill="#ff0000" clip-path="url(#c4)"/>
<circle cx="512.4" cy="784.1" r="5.5" fill="#ff0000" clip-path="url(#c4)"/>
<circle cx="520.6" cy="782.5" r="5.5" fill="#ff0000" clip-path="url(#c4)"/>
<circle cx="511" cy="781" r="5.5" fill="#ff0000" clip-path="url(#c4)"/>
<polyline points="116.9,1116.68 573,707.29" fill="none" stroke="#000000" stroke-width="2.08" stroke-linejoin="round" stroke-linecap="butt" clip-path="url(#c4)" stroke-dasharray="12.5 12.5"/>
<rect x="117" y="662" width="454" height="454" fill="none" stroke="#000" stroke-width="2"/>
<line x1="117" y1="1053.5" x2="125.33" y2="1053.5" stroke="#000000" stroke-width="1.04"/>
<line x1="571" y1="1053.5" x2="562.67" y2="1053.5" stroke="#000000" stroke-width="1.04"/>
<text x="107.9" y="1058.15" font-size="16.67" text-anchor="end">0</text>
<line x1="117" y1="937.5" x2="125.33" y2="937.5" stroke="#000000" stroke-width="1.04"/>
<line x1="571" y1="937.5" x2="562.67" y2="937.5" stroke="#000000" stroke-width="1.04"/>
<text x="107.9" y="941.85" font-size="16.67" text-anchor="end">50</text>
<line x1="117" y1="821.5" x2="125.33" y2="821.5" stroke="#000000" stroke-width="1.04"/>
<line x1="571" y1="821.5" x2="562.67" y2="821.5" stroke="#000000" stroke-width="1.04"/>
<text x="107.9" y="825.55" font-size="16.67" text-anchor="end">100</text>
<line x1="117" y1="704.5" x2="125.33" y2="704.5" stroke="#000000" stroke-width="1.04"/>
<line x1="571" y1="704.5" x2="562.67" y2="704.5" stroke="#000000" stroke-width="1.04"/>
<text x="107.9" y="709.25" font-size="16.67" text-anchor="end">150</text>
<line x1="180.5" y1="1116" x2="180.5" y2="1107.67" stroke="#000000" stroke-width="1.04"/>
<line x1="180.5" y1="662" x2="180.5" y2="670.33" stroke="#000000" stroke-width="1.04"/>
<text x="179.7" y="1137.6" font-size="16.67" text-anchor="middle">0</text>
<line x1="296.5" y1="1116" x2="296.5" y2="1107.67" stroke="#000000" stroke-width="1.04"/>
<line x1="296.5" y1="662" x2="296.5" y2="670.33" stroke="#000000" stroke-width="1.04"/>
<text x="296" y="1137.6" font-size="16.67" text-anchor="middle">50</text>
<line x1="412.5" y1="1116" x2="412.5" y2="1107.67" stroke="#000000" stroke-width="1.04"/>
<line x1="412.5" y1="662" x2="412.5" y2="670.33" stroke="#000000" stroke-width="1.04"/>
<text x="412.3" y="1137.6" font-size="16.67" text-anchor="middle">100</text>
<line x1="529.5" y1="1116" x2="529.5" y2="1107.67" stroke="#000000" stroke-width="1.04"/>
<line x1="529.5" y1="662" x2="529.5" y2="670.33" stroke="#000000" stroke-width="1.04"/>
<text x="528.6" y="1137.6" font-size="16.67" text-anchor="middle">150</text>
<text x="344" y="651.7" font-size="22.92" text-anchor="middle">WalenTest</text>
<text x="306.87" y="1167.7" font-size="16.67" font-family="'DejaVu Sans'">V</text>
<text x="320.5" y="1169.7" font-size="11" font-family="'Liberation Serif'" font-style="italic">A</text>
<text x="327.37" y="1167.7" font-size="16.67" font-family="'DejaVu Sans'">(km/s)</text>
<text x="-949.83" y="58.1" font-size="16.67" font-family="'DejaVu Sans'" transform="rotate(-90)">V</text>
<text x="-938.34" y="60.2" font-size="10.5" font-family="'DejaVu Serif'" font-style="italic" transform="rotate(-90)">remaining</text>
<text x="-883.13" y="58.1" font-size="16.67" font-family="'DejaVu Sans'" transform="rotate(-90)">(km/s)</text>
<rect x="124.8" y="669" width="138" height="71.8" fill="#fff" stroke="#000" stroke-width="2"/>
<text x="127.78" y="686.9" font-size="18.75" font-family="'DejaVu Sans'">slope = 0.899</text>
<text x="128.61" y="708.8" font-size="19.5" font-family="'Liberation Serif'" font-style="italic">r</text>
<text x="142.61" y="708.8" font-size="18.75" font-family="'DejaVu Sans'">= 0.983</text>
<text x="130.03" y="730.7" font-size="19.5" font-family="'Liberation Serif'" font-style="italic">M</text>
<text x="148.98" y="733.9" font-size="12.5" font-family="'Liberation Serif'" font-style="italic">A</text>
<text x="163.91" y="730.7" font-size="18.75" font-family="'DejaVu Sans'">= 0.881</text>
<clipPath id="c5"><rect x="673" y="662" width="454" height="454"/></clipPath>
<polyline points="883.4,722.3 943.6,713.3 849.1,925.4 838.3,816.4 848.3,692.5 903.2,837.3 975.3,1022.3 853.4,1091.2 831.4,1072.3 902.4,1010.2 949.4,978.4 879.4,1084.3" fill="none" stroke="#0000ff" stroke-width="2.08" stroke-linejoin="round" stroke-linecap="butt" clip-path="url(#c5)"/>
<circle cx="883.4" cy="722.3" r="3.12" fill="#0000ff" stroke="#0000ff" stroke-width="1.04" clip-path="url(#c5)"/>
<circle cx="943.6" cy="713.3" r="3.12" fill="#0000ff" stroke="#0000ff" stroke-width="1.04" clip-path="url(#c5)"/>
<circle cx="849.1" cy="925.4" r="3.12" fill="#0000ff" stroke="#0000ff" stroke-width="1.04" clip-path="url(#c5)"/>
<circle cx="838.3" cy="816.4" r="3.12" fill="#0000ff" stroke="#0000ff" stroke-width="1.04" clip-path="url(#c5)"/>
<circle cx="848.3" cy="692.5" r="3.12" fill="#0000ff" stroke="#0000ff" stroke-width="1.04" clip-path="url(#c5)"/>
<circle cx="903.2" cy="837.3" r="3.12" fill="#0000ff" stroke="#0000ff" stroke-width="1.04" clip-path="url(#c5)"/>
<circle cx="975.3" cy="1022.3" r="3.12" fill="#0000ff" stroke="#0000ff" stroke-width="1.04" clip-path="url(#c5)"/>
<circle cx="853.4" cy="1091.2" r="3.12" fill="#0000ff" stroke="#0000ff" stroke-width="1.04" clip-path="url(#c5)"/>
<circle cx="831.4" cy="1072.3" r="3.12" fill="#0000ff" stroke="#0000ff" stroke-width="1.04" clip-path="url(#c5)"/>
<circle cx="902.4" cy="1010.2" r="3.12" fill="#0000ff" stroke="#0000ff" stroke-width="1.04" clip-path="url(#c5)"/>
<circle cx="949.4" cy="978.4" r="3.12" fill="#0000ff" stroke="#0000ff" stroke-width="1.04" clip-path="url(#c5)"/>
<circle cx="879.4" cy="1084.3" r="3.12" fill="#0000ff" stroke="#0000ff" stroke-width="1.04" clip-path="url(#c5)"/>
<line x1="711.5" y1="1116" x2="711.5" y2="662" stroke="#000000" stroke-width="1.04" stroke-dasharray="2.08 6.25" stroke-dashoffset="0.5"/>
<line x1="812.5" y1="1116" x2="812.5" y2="662" stroke="#000000" stroke-width="1.04" stroke-dasharray="2.08 6.25" stroke-dashoffset="0.5"/>
<line x1="913.5" y1="1116" x2="913.5" y2="662" stroke="#000000" stroke-width="1.04" stroke-dasharray="2.08 6.25" stroke-dashoffset="0.5"/>
<line x1="1014.5" y1="1116" x2="1014.5" y2="662" stroke="#000000" stroke-width="1.04" stroke-dasharray="2.08 6.25" stroke-dashoffset="0.5"/>
<line x1="1115.5" y1="1116" x2="1115.5" y2="662" stroke="#000000" stroke-width="1.04" stroke-dasharray="2.08 6.25" stroke-dashoffset="0.5"/>
<line x1="673" y1="1066.5" x2="1127" y2="1066.5" stroke="#000000" stroke-width="1.04" stroke-dasharray="2.08 6.25" stroke-dashoffset="-0.7"/>
<line x1="673" y1="1015.5" x2="1127" y2="1015.5" stroke="#000000" stroke-width="1.04" stroke-dasharray="2.08 6.25" stroke-dashoffset="-0.7"/>
<line x1="673" y1="965.5" x2="1127" y2="965.5" stroke="#000000" stroke-width="1.04" stroke-dasharray="2.08 6.25" stroke-dashoffset="-0.7"/>
<line x1="673" y1="914.5" x2="1127" y2="914.5" stroke="#000000" stroke-width="1.04" stroke-dasharray="2.08 6.25" stroke-dashoffset="-0.7"/>
<line x1="673" y1="864.5" x2="1127" y2="864.5" stroke="#000000" stroke-width="1.04" stroke-dasharray="2.08 6.25" stroke-dashoffset="-0.7"/>
<line x1="673" y1="813.5" x2="1127" y2="813.5" stroke="#000000" stroke-width="1.04" stroke-dasharray="2.08 6.25" stroke-dashoffset="-0.7"/>
<line x1="673" y1="763.5" x2="1127" y2="763.5" stroke="#000000" stroke-width="1.04" stroke-dasharray="2.08 6.25" stroke-dashoffset="-0.7"/>
<line x1="673" y1="712.5" x2="1127" y2="712.5" stroke="#000000" stroke-width="1.04" stroke-dasharray="2.08 6.25" stroke-dashoffset="-0.7"/>
<rect x="673" y="662" width="454" height="454" fill="none" stroke="#000" stroke-width="2"/>
<line x1="673" y1="1116.5" x2="681.33" y2="1116.5" stroke="#000000" stroke-width="1.04"/>
<line x1="1127" y1="1116.5" x2="1118.67" y2="1116.5" stroke="#000000" stroke-width="1.04"/>
<text x="663.9" y="1120.85" font-size="16.67" text-anchor="end">−40</text>
<line x1="673" y1="1066.5" x2="681.33" y2="1066.5" stroke="#000000" stroke-width="1.04"/>
<line x1="1127" y1="1066.5" x2="1118.67" y2="1066.5" stroke="#000000" stroke-width="1.04"/>
<text x="663.9" y="1070.41" font-size="16.67" text-anchor="end">−30</text>
<line x1="673" y1="1015.5" x2="681.33" y2="1015.5" stroke="#000000" stroke-width="1.04"/>
<line x1="1127" y1="1015.5" x2="1118.67" y2="1015.5" stroke="#000000" stroke-width="1.04"/>
<text x="663.9" y="1019.96" font-size="16.67" text-anchor="end">−20</text>
<line x1="673" y1="965.5" x2="681.33" y2="965.5" stroke="#000000" stroke-width="1.04"/>
<line x1="1127" y1="965.5" x2="1118.67" y2="965.5" stroke="#000000" stroke-width="1.04"/>
<text x="663.9" y="969.52" font-size="16.67" text-anchor="end">−10</text>
<line x1="673" y1="914.5" x2="681.33" y2="914.5" stroke="#000000" stroke-width="1.04"/>
<line x1="1127" y1="914.5" x2="1118.67" y2="914.5" stroke="#000000" stroke-width="1.04"/>
<text x="663.9" y="919.07" font-size="16.67" text-anchor="end">0</text>
<line x1="673" y1="864.5" x2="681.33" y2="864.5" stroke="#000000" stroke-width="1.04"/>
<line x1="1127" y1="864.5" x2="1118.67" y2="864.5" stroke="#000000" stroke-width="1.04"/>
<text x="663.9" y="868.63" font-size="16.67" text-anchor="end">10</text>
<line x1="673" y1="813.5" x2="681.33" y2="813.5" stroke="#000000" stroke-width="1.04"/>
<line x1="1127" y1="813.5" x2="1118.67" y2="813.5" stroke="#000000" stroke-width="1.04"/>
<text x="663.9" y="818.18" font-size="16.67" text-anchor="end">20</text>
<line x1="673" y1="763.5" x2="681.33" y2="763.5" stroke="#000000" stroke-width="1.04"/>
<line x1="1127" y1="763.5" x2="1118.67" y2="763.5" stroke="#000000" stroke-width="1.04"/>
<text x="663.9" y="767.74" font-size="16.67" text-anchor="end">30</text>
<line x1="673" y1="712.5" x2="681.33" y2="712.5" stroke="#000000" stroke-width="1.04"/>
<line x1="1127" y1="712.5" x2="1118.67" y2="712.5" stroke="#000000" stroke-width="1.04"/>
<text x="663.9" y="717.29" font-size="16.67" text-anchor="end">40</text>
<line x1="673" y1="662.5" x2="681.33" y2="662.5" stroke="#000000" stroke-width="1.04"/>
<line x1="1127" y1="662.5" x2="1118.67" y2="662.5" stroke="#000000" stroke-width="1.04"/>
<text x="663.9" y="666.85" font-size="16.67" text-anchor="end">50</text>
<line x1="711.5" y1="1116" x2="711.5" y2="1107.67" stroke="#000000" stroke-width="1.04"/>
<line x1="711.5" y1="662" x2="711.5" y2="670.33" stroke="#000000" stroke-width="1.04"/>
<text x="711.39" y="1137.6" font-size="16.67" text-anchor="middle">−60</text>
<line x1="812.5" y1="1116" x2="812.5" y2="1107.67" stroke="#000000" stroke-width="1.04"/>
<line x1="812.5" y1="662" x2="812.5" y2="670.33" stroke="#000000" stroke-width="1.04"/>
<text x="812.27" y="1137.6" font-size="16.67" text-anchor="middle">−40</text>
<line x1="913.5" y1="1116" x2="913.5" y2="1107.67" stroke="#000000" stroke-width="1.04"/>
<line x1="913.5" y1="662" x2="913.5" y2="670.33" stroke="#000000" stroke-width="1.04"/>
<text x="913.16" y="1137.6" font-size="16.67" text-anchor="middle">−20</text>
<line x1="1014.5" y1="1116" x2="1014.5" y2="1107.67" stroke="#000000" stroke-width="1.04"/>
<line x1="1014.5" y1="662" x2="1014.5" y2="670.33" stroke="#000000" stroke-width="1.04"/>
<text x="1014.05" y="1137.6" font-size="16.67" text-anchor="middle">0</text>
<line x1="1115.5" y1="1116" x2="1115.5" y2="1107.67" stroke="#000000" stroke-width="1.04"/>
<line x1="1115.5" y1="662" x2="1115.5" y2="670.33" stroke="#000000" stroke-width="1.04"/>
<text x="1114.94" y="1137.6" font-size="16.67" text-anchor="middle">20</text>
<text x="678.35" y="650.4" font-size="22.92" font-family="'DejaVu Sans'">Hodogram (V2_V1 MVAV</text>
<text transform="translate(960.66 652.7) scale(1.100 1)" font-size="13.5" font-family="'DejaVu Serif'" font-style="italic">remaining</text>
<text x="1045.27" y="650.4" font-size="22.92" font-family="'DejaVu Sans'">frame)</text>
<text x="900" y="1168.7" font-size="16.67" text-anchor="middle">V2(km/s)</text>
<text x="-928.08" y="613.85" font-size="16.67" font-family="'DejaVu Sans'" transform="rotate(-90)">V1(km/s)</text>
<text x="686.54" y="1092" font-size="16.5" font-family="'DejaVu Serif'" font-style="italic">λ</text>
<text x="694.84" y="1094.8" font-size="13.2" font-family="'Liberation Serif'">1</text>
<text x="703.9" y="1096.5" font-size="26.5" font-family="'Liberation Serif'">/</text>
<text x="714.44" y="1092" font-size="16.5" font-family="'DejaVu Serif'" font-style="italic">λ</text>
<text x="722.92" y="1094.8" font-size="13.2" font-family="'Liberation Serif'">2</text>
<text x="733.52" y="1093.4" font-size="21.5" font-family="'DejaVu Serif'">≈</text>
<text x="756" y="1092" font-size="18.75" font-family="'DejaVu Sans'">10.1</text>
<clipPath id="c6"><rect x="1229" y="662" width="454" height="454"/></clipPath>
<polyline points="1464.2,722.3 1453,713.3 1434.2,925.4 1468.1,816.4 1478.1,692.5 1442.3,837.3 1464.3,1022.3 1459.3,1091.2 1468.3,1072.3 1472.4,1010.2 1471.4,978.4 1457.2,1084.3" fill="none" stroke="#0000ff" stroke-width="2.08" stroke-linejoin="round" stroke-linecap="butt" clip-path="url(#c6)"/>
<circle cx="1464.2" cy="722.3" r="3.12" fill="#0000ff" stroke="#0000ff" stroke-width="1.04" clip-path="url(#c6)"/>
<circle cx="1453" cy="713.3" r="3.12" fill="#0000ff" stroke="#0000ff" stroke-width="1.04" clip-path="url(#c6)"/>
<circle cx="1434.2" cy="925.4" r="3.12" fill="#0000ff" stroke="#0000ff" stroke-width="1.04" clip-path="url(#c6)"/>
<circle cx="1468.1" cy="816.4" r="3.12" fill="#0000ff" stroke="#0000ff" stroke-width="1.04" clip-path="url(#c6)"/>
<circle cx="1478.1" cy="692.5" r="3.12" fill="#0000ff" stroke="#0000ff" stroke-width="1.04" clip-path="url(#c6)"/>
<circle cx="1442.3" cy="837.3" r="3.12" fill="#0000ff" stroke="#0000ff" stroke-width="1.04" clip-path="url(#c6)"/>
<circle cx="1464.3" cy="1022.3" r="3.12" fill="#0000ff" stroke="#0000ff" stroke-width="1.04" clip-path="url(#c6)"/>
<circle cx="1459.3" cy="1091.2" r="3.12" fill="#0000ff" stroke="#0000ff" stroke-width="1.04" clip-path="url(#c6)"/>
<circle cx="1468.3" cy="1072.3" r="3.12" fill="#0000ff" stroke="#0000ff" stroke-width="1.04" clip-path="url(#c6)"/>
<circle cx="1472.4" cy="1010.2" r="3.12" fill="#0000ff" stroke="#0000ff" stroke-width="1.04" clip-path="url(#c6)"/>
<circle cx="1471.4" cy="978.4" r="3.12" fill="#0000ff" stroke="#0000ff" stroke-width="1.04" clip-path="url(#c6)"/>
<circle cx="1457.2" cy="1084.3" r="3.12" fill="#0000ff" stroke="#0000ff" stroke-width="1.04" clip-path="url(#c6)"/>
<line x1="1318.5" y1="1116" x2="1318.5" y2="662" stroke="#000000" stroke-width="1.04" stroke-dasharray="2.08 6.25" stroke-dashoffset="0.5"/>
<line x1="1418.5" y1="1116" x2="1418.5" y2="662" stroke="#000000" stroke-width="1.04" stroke-dasharray="2.08 6.25" stroke-dashoffset="0.5"/>
<line x1="1519.5" y1="1116" x2="1519.5" y2="662" stroke="#000000" stroke-width="1.04" stroke-dasharray="2.08 6.25" stroke-dashoffset="0.5"/>
<line x1="1620.5" y1="1116" x2="1620.5" y2="662" stroke="#000000" stroke-width="1.04" stroke-dasharray="2.08 6.25" stroke-dashoffset="0.5"/>
<line x1="1229" y1="1066.5" x2="1683" y2="1066.5" stroke="#000000" stroke-width="1.04" stroke-dasharray="2.08 6.25" stroke-dashoffset="-0.7"/>
<line x1="1229" y1="1015.5" x2="1683" y2="1015.5" stroke="#000000" stroke-width="1.04" stroke-dasharray="2.08 6.25" stroke-dashoffset="-0.7"/>
<line x1="1229" y1="965.5" x2="1683" y2="965.5" stroke="#000000" stroke-width="1.04" stroke-dasharray="2.08 6.25" stroke-dashoffset="-0.7"/>
<line x1="1229" y1="914.5" x2="1683" y2="914.5" stroke="#000000" stroke-width="1.04" stroke-dasharray="2.08 6.25" stroke-dashoffset="-0.7"/>
<line x1="1229" y1="864.5" x2="1683" y2="864.5" stroke="#000000" stroke-width="1.04" stroke-dasharray="2.08 6.25" stroke-dashoffset="-0.7"/>
<line x1="1229" y1="813.5" x2="1683" y2="813.5" stroke="#000000" stroke-width="1.04" stroke-dasharray="2.08 6.25" stroke-dashoffset="-0.7"/>
<line x1="1229" y1="763.5" x2="1683" y2="763.5" stroke="#000000" stroke-width="1.04" stroke-dasharray="2.08 6.25" stroke-dashoffset="-0.7"/>
<line x1="1229" y1="712.5" x2="1683" y2="712.5" stroke="#000000" stroke-width="1.04" stroke-dasharray="2.08 6.25" stroke-dashoffset="-0.7"/>
<rect x="1229" y="662" width="454" height="454" fill="none" stroke="#000" stroke-width="2"/>
<line x1="1229" y1="1116.5" x2="1237.33" y2="1116.5" stroke="#000000" stroke-width="1.04"/>
<line x1="1683" y1="1116.5" x2="1674.67" y2="1116.5" stroke="#000000" stroke-width="1.04"/>
<text x="1219.9" y="1120.85" font-size="16.67" text-anchor="end">−40</text>
<line x1="1229" y1="1066.5" x2="1237.33" y2="1066.5" stroke="#000000" stroke-width="1.04"/>
<line x1="1683" y1="1066.5" x2="1674.67" y2="1066.5" stroke="#000000" stroke-width="1.04"/>
<text x="1219.9" y="1070.41" font-size="16.67" text-anchor="end">−30</text>
<line x1="1229" y1="1015.5" x2="1237.33" y2="1015.5" stroke="#000000" stroke-width="1.04"/>
<line x1="1683" y1="1015.5" x2="1674.67" y2="1015.5" stroke="#000000" stroke-width="1.04"/>
<text x="1219.9" y="1019.96" font-size="16.67" text-anchor="end">−20</text>
<line x1="1229" y1="965.5" x2="1237.33" y2="965.5" stroke="#000000" stroke-width="1.04"/>
<line x1="1683" y1="965.5" x2="1674.67" y2="965.5" stroke="#000000" stroke-width="1.04"/>
<text x="1219.9" y="969.52" font-size="16.67" text-anchor="end">−10</text>
<line x1="1229" y1="914.5" x2="1237.33" y2="914.5" stroke="#000000" stroke-width="1.04"/>
<line x1="1683" y1="914.5" x2="1674.67" y2="914.5" stroke="#000000" stroke-width="1.04"/>
<text x="1219.9" y="919.07" font-size="16.67" text-anchor="end">0</text>
<line x1="1229" y1="864.5" x2="1237.33" y2="864.5" stroke="#000000" stroke-width="1.04"/>
<line x1="1683" y1="864.5" x2="1674.67" y2="864.5" stroke="#000000" stroke-width="1.04"/>
<text x="1219.9" y="868.63" font-size="16.67" text-anchor="end">10</text>
<line x1="1229" y1="813.5" x2="1237.33" y2="813.5" stroke="#000000" stroke-width="1.04"/>
<line x1="1683" y1="813.5" x2="1674.67" y2="813.5" stroke="#000000" stroke-width="1.04"/>
<text x="1219.9" y="818.18" font-size="16.67" text-anchor="end">20</text>
<line x1="1229" y1="763.5" x2="1237.33" y2="763.5" stroke="#000000" stroke-width="1.04"/>
<line x1="1683" y1="763.5" x2="1674.67" y2="763.5" stroke="#000000" stroke-width="1.04"/>
<text x="1219.9" y="767.74" font-size="16.67" text-anchor="end">30</text>
<line x1="1229" y1="712.5" x2="1237.33" y2="712.5" stroke="#000000" stroke-width="1.04"/>
<line x1="1683" y1="712.5" x2="1674.67" y2="712.5" stroke="#000000" stroke-width="1.04"/>
<text x="1219.9" y="717.29" font-size="16.67" text-anchor="end">40</text>
<line x1="1229" y1="662.5" x2="1237.33" y2="662.5" stroke="#000000" stroke-width="1.04"/>
<line x1="1683" y1="662.5" x2="1674.67" y2="662.5" stroke="#000000" stroke-width="1.04"/>
<text x="1219.9" y="666.85" font-size="16.67" text-anchor="end">50</text>
<line x1="1318.5" y1="1116" x2="1318.5" y2="1107.67" stroke="#000000" stroke-width="1.04"/>
<line x1="1318.5" y1="662" x2="1318.5" y2="670.33" stroke="#000000" stroke-width="1.04"/>
<text x="1317.52" y="1137.6" font-size="16.67" text-anchor="middle">120</text>
<line x1="1418.5" y1="1116" x2="1418.5" y2="1107.67" stroke="#000000" stroke-width="1.04"/>
<line x1="1418.5" y1="662" x2="1418.5" y2="670.33" stroke="#000000" stroke-width="1.04"/>
<text x="1418.41" y="1137.6" font-size="16.67" text-anchor="middle">140</text>
<line x1="1519.5" y1="1116" x2="1519.5" y2="1107.67" stroke="#000000" stroke-width="1.04"/>
<line x1="1519.5" y1="662" x2="1519.5" y2="670.33" stroke="#000000" stroke-width="1.04"/>
<text x="1519.29" y="1137.6" font-size="16.67" text-anchor="middle">160</text>
<line x1="1620.5" y1="1116" x2="1620.5" y2="1107.67" stroke="#000000" stroke-width="1.04"/>
<line x1="1620.5" y1="662" x2="1620.5" y2="670.33" stroke="#000000" stroke-width="1.04"/>
<text x="1620.18" y="1137.6" font-size="16.67" text-anchor="middle">180</text>
<text x="1234.35" y="650.4" font-size="22.92" font-family="'DejaVu Sans'">Hodogram (V3_V1 MVAV</text>
<text transform="translate(1516.66 652.7) scale(1.100 1)" font-size="13.5" font-family="'DejaVu Serif'" font-style="italic">remaining</text>
<text x="1601.27" y="650.4" font-size="22.92" font-family="'DejaVu Sans'">frame)</text>
<text x="1456" y="1168.7" font-size="16.67" text-anchor="middle">V3(km/s)</text>
<text x="-928.08" y="1169.85" font-size="16.67" font-family="'DejaVu Sans'" transform="rotate(-90)">V1(km/s)</text>
<text x="1262.54" y="1092" font-size="16.5" font-family="'DejaVu Serif'" font-style="italic">λ</text>
<text x="1270.84" y="1094.8" font-size="13.2" font-family="'Liberation Serif'">1</text>
<text x="1279.9" y="1096.5" font-size="26.5" font-family="'Liberation Serif'">/</text>
<text x="1290.44" y="1092" font-size="16.5" font-family="'DejaVu Serif'" font-style="italic">λ</text>
<text x="1298.87" y="1094.8" font-size="13.2" font-family="'Liberation Serif'">3</text>
<text x="1309.52" y="1093.4" font-size="21.5" font-family="'DejaVu Serif'">≈</text>
<text x="1332" y="1092" font-size="18.75" font-family="'DejaVu Sans'">143.49</text>
<clipPath id="c7"><rect x="117" y="1305" width="1566" height="222"/></clipPath>
<polyline points="117,1372.5 1683,1372.5" fill="none" stroke="#000000" stroke-width="1.04" stroke-linejoin="round" stroke-linecap="butt" clip-path="url(#c7)" stroke-dasharray="12.5 12.5"/>
<polyline points="117,1523.2 259.36,1522 401.73,1522.4 544.09,1522 686.45,1519.6 828.82,1520.8 971.18,1522.4 1113.55,1510.4 1255.91,1505.4 1398.27,1510.2 1540.64,1506.9 1683,1505.8" fill="none" stroke="#ff0000" stroke-width="2.08" stroke-linejoin="round" stroke-linecap="butt" clip-path="url(#c7)"/>
<polyline points="117,1332.3 259.36,1332.3 401.73,1336.7 544.09,1330.7 686.45,1324.7 828.82,1326.3 971.18,1338.3 1113.55,1338.3 1255.91,1341.8 1398.27,1339.2 1540.64,1335.9 1683,1329.6" fill="none" stroke="#008000" stroke-width="2.08" stroke-linejoin="round" stroke-linecap="butt" clip-path="url(#c7)"/>
<polyline points="117,1405.2 259.36,1410.8 401.73,1413.6 544.09,1406.4 686.45,1405.6 828.82,1406.4 971.18,1416 1113.55,1446.7 1255.91,1451 1398.27,1444 1540.64,1450.3 1683,1449.9" fill="none" stroke="#0000ff" stroke-width="2.08" stroke-linejoin="round" stroke-linecap="butt" clip-path="url(#c7)"/>
<rect x="117" y="1305" width="1566" height="222" fill="none" stroke="#000" stroke-width="2"/>
<line x1="117" y1="1505.5" x2="125.33" y2="1505.5" stroke="#000000" stroke-width="1.04"/>
<line x1="1683" y1="1505.5" x2="1674.67" y2="1505.5" stroke="#000000" stroke-width="1.04"/>
<text x="107.9" y="1509.65" font-size="16.67" text-anchor="end">−60</text>
<line x1="117" y1="1460.5" x2="125.33" y2="1460.5" stroke="#000000" stroke-width="1.04"/>
<line x1="1683" y1="1460.5" x2="1674.67" y2="1460.5" stroke="#000000" stroke-width="1.04"/>
<text x="107.9" y="1465.25" font-size="16.67" text-anchor="end">−40</text>
<line x1="117" y1="1416.5" x2="125.33" y2="1416.5" stroke="#000000" stroke-width="1.04"/>
<line x1="1683" y1="1416.5" x2="1674.67" y2="1416.5" stroke="#000000" stroke-width="1.04"/>
<text x="107.9" y="1420.85" font-size="16.67" text-anchor="end">−20</text>
<line x1="117" y1="1372.5" x2="125.33" y2="1372.5" stroke="#000000" stroke-width="1.04"/>
<line x1="1683" y1="1372.5" x2="1674.67" y2="1372.5" stroke="#000000" stroke-width="1.04"/>
<text x="107.9" y="1376.45" font-size="16.67" text-anchor="end">0</text>
<line x1="117" y1="1327.5" x2="125.33" y2="1327.5" stroke="#000000" stroke-width="1.04"/>
<line x1="1683" y1="1327.5" x2="1674.67" y2="1327.5" stroke="#000000" stroke-width="1.04"/>
<text x="107.9" y="1332.05" font-size="16.67" text-anchor="end">20</text>
<line x1="686.5" y1="1527" x2="686.5" y2="1518.67" stroke="#000000" stroke-width="1.04"/>
<line x1="686.5" y1="1305" x2="686.5" y2="1313.33" stroke="#000000" stroke-width="1.04"/>
<text x="686.45" y="1548.6" font-size="16.67" text-anchor="middle">12/28 21:49:33</text>
<line x1="1398.5" y1="1527" x2="1398.5" y2="1518.67" stroke="#000000" stroke-width="1.04"/>
<line x1="1398.5" y1="1305" x2="1398.5" y2="1313.33" stroke="#000000" stroke-width="1.04"/>
<text x="1398.27" y="1548.6" font-size="16.67" text-anchor="middle">12/28 21:49:38</text>
<text x="900" y="1294.7" font-size="22.92" text-anchor="middle">Magnetic Field (RTN Frame)</text>
<text x="-1441.14" y="59.9" font-size="16.67" font-family="'DejaVu Sans'" transform="rotate(-90)">B(nT)</text>
<rect x="1604" y="1312.2" width="72" height="71.4" fill="#fff" stroke="#000" stroke-width="2"/>
<line x1="1613" y1="1325" x2="1635.6" y2="1325" stroke="#ff0000" stroke-width="2.08"/>
<text x="1651.1" y="1330.3" font-size="14.78" text-anchor="start">Br</text>
<line x1="1613" y1="1346.8" x2="1635.6" y2="1346.8" stroke="#008000" stroke-width="2.08"/>
<text x="1651.1" y="1352.1" font-size="14.78" text-anchor="start">Bt</text>
<line x1="1613" y1="1369.8" x2="1635.6" y2="1369.8" stroke="#0000ff" stroke-width="2.08"/>
<text x="1651.1" y="1375.1" font-size="14.78" text-anchor="start">Bn</text>
<clipPath id="c8"><rect x="117" y="1639" width="1566" height="222"/></clipPath>
<polyline points="117,1836.5 1683,1836.5" fill="none" stroke="#000000" stroke-width="1.04" stroke-linejoin="round" stroke-linecap="butt" clip-path="url(#c8)" stroke-dasharray="12.5 12.5"/>
<polyline points="117,1692.8 259.36,1688 401.73,1687.6 544.09,1691.6 686.45,1691.6 828.82,1690.8 971.18,1685.6 1113.55,1668.9 1255.91,1669.4 1398.27,1671.6 1540.64,1667.6 1683,1666.8" fill="none" stroke="#ff0000" stroke-width="2.08" stroke-linejoin="round" stroke-linecap="butt" clip-path="url(#c8)"/>
<polyline points="117,1840.7 259.36,1839.1 401.73,1834.3 544.09,1842.3 686.45,1849.4 828.82,1847.4 971.18,1832.3 1113.55,1827.5 1255.91,1823.4 1398.27,1826.7 1540.64,1829.3 1683,1836.3" fill="none" stroke="#008000" stroke-width="2.08" stroke-linejoin="round" stroke-linecap="butt" clip-path="url(#c8)"/>
<polyline points="117,1731.1 259.36,1735.8 401.73,1737.4 544.09,1732.6 686.45,1733.8 828.82,1733.8 971.18,1739.4 1113.55,1770.9 1255.91,1778.6 1398.27,1769.3 1540.64,1776.7 1683,1777.1" fill="none" stroke="#0000ff" stroke-width="2.08" stroke-linejoin="round" stroke-linecap="butt" clip-path="url(#c8)"/>
<polyline points="117,1658.1 259.36,1657.3 401.73,1657.7 544.09,1658.1 686.45,1658.5 828.82,1657.7 971.18,1656.9 1113.55,1656.1 1255.91,1659.4 1398.27,1657.9 1540.64,1656.8 1683,1656.1" fill="none" stroke="#000000" stroke-width="2.08" stroke-linejoin="round" stroke-linecap="butt" clip-path="url(#c8)"/>
<rect x="117" y="1639" width="1566" height="222" fill="none" stroke="#000" stroke-width="2"/>
<line x1="117" y1="1861.5" x2="125.33" y2="1861.5" stroke="#000000" stroke-width="1.04"/>
<line x1="1683" y1="1861.5" x2="1674.67" y2="1861.5" stroke="#000000" stroke-width="1.04"/>
<text x="107.9" y="1865.85" font-size="16.67" text-anchor="end">−10</text>
<line x1="117" y1="1836.5" x2="125.33" y2="1836.5" stroke="#000000" stroke-width="1.04"/>
<line x1="1683" y1="1836.5" x2="1674.67" y2="1836.5" stroke="#000000" stroke-width="1.04"/>
<text x="107.9" y="1841.18" font-size="16.67" text-anchor="end">0</text>
<line x1="117" y1="1812.5" x2="125.33" y2="1812.5" stroke="#000000" stroke-width="1.04"/>
<line x1="1683" y1="1812.5" x2="1674.67" y2="1812.5" stroke="#000000" stroke-width="1.04"/>
<text x="107.9" y="1816.52" font-size="16.67" text-anchor="end">10</text>
<line x1="117" y1="1787.5" x2="125.33" y2="1787.5" stroke="#000000" stroke-width="1.04"/>
<line x1="1683" y1="1787.5" x2="1674.67" y2="1787.5" stroke="#000000" stroke-width="1.04"/>
<text x="107.9" y="1791.85" font-size="16.67" text-anchor="end">20</text>
<line x1="117" y1="1762.5" x2="125.33" y2="1762.5" stroke="#000000" stroke-width="1.04"/>
<line x1="1683" y1="1762.5" x2="1674.67" y2="1762.5" stroke="#000000" stroke-width="1.04"/>
<text x="107.9" y="1767.18" font-size="16.67" text-anchor="end">30</text>
<line x1="117" y1="1738.5" x2="125.33" y2="1738.5" stroke="#000000" stroke-width="1.04"/>
<line x1="1683" y1="1738.5" x2="1674.67" y2="1738.5" stroke="#000000" stroke-width="1.04"/>
<text x="107.9" y="1742.52" font-size="16.67" text-anchor="end">40</text>
<line x1="117" y1="1713.5" x2="125.33" y2="1713.5" stroke="#000000" stroke-width="1.04"/>
<line x1="1683" y1="1713.5" x2="1674.67" y2="1713.5" stroke="#000000" stroke-width="1.04"/>
<text x="107.9" y="1717.85" font-size="16.67" text-anchor="end">50</text>
<line x1="117" y1="1688.5" x2="125.33" y2="1688.5" stroke="#000000" stroke-width="1.04"/>
<line x1="1683" y1="1688.5" x2="1674.67" y2="1688.5" stroke="#000000" stroke-width="1.04"/>
<text x="107.9" y="1693.18" font-size="16.67" text-anchor="end">60</text>
<line x1="117" y1="1664.5" x2="125.33" y2="1664.5" stroke="#000000" stroke-width="1.04"/>
<line x1="1683" y1="1664.5" x2="1674.67" y2="1664.5" stroke="#000000" stroke-width="1.04"/>
<text x="107.9" y="1668.52" font-size="16.67" text-anchor="end">70</text>
<line x1="117" y1="1639.5" x2="125.33" y2="1639.5" stroke="#000000" stroke-width="1.04"/>
<line x1="1683" y1="1639.5" x2="1674.67" y2="1639.5" stroke="#000000" stroke-width="1.04"/>
<text x="107.9" y="1643.85" font-size="16.67" text-anchor="end">80</text>
<line x1="686.5" y1="1861" x2="686.5" y2="1852.67" stroke="#000000" stroke-width="1.04"/>
<line x1="686.5" y1="1639" x2="686.5" y2="1647.33" stroke="#000000" stroke-width="1.04"/>
<text x="686.45" y="1882.6" font-size="16.67" text-anchor="middle">12/28 21:49:33</text>
<line x1="1398.5" y1="1861" x2="1398.5" y2="1852.67" stroke="#000000" stroke-width="1.04"/>
<line x1="1398.5" y1="1639" x2="1398.5" y2="1647.33" stroke="#000000" stroke-width="1.04"/>
<text x="1398.27" y="1882.6" font-size="16.67" text-anchor="middle">12/28 21:49:38</text>
<text x="900" y="1628.7" font-size="22.92" text-anchor="middle">Magnetic Field (Flux Rope Frame)</text>
<text x="-1775.14" y="59.9" font-size="16.67" font-family="'DejaVu Sans'" transform="rotate(-90)">B(nT)</text>
<rect x="1601" y="1645.4" width="75" height="94.3" fill="#fff" stroke="#000" stroke-width="2"/>
<line x1="1609.9" y1="1659.1" x2="1632.3" y2="1659.1" stroke="#ff0000" stroke-width="2.08"/>
<text x="1648.2" y="1664.4" font-size="14.78" text-anchor="start">Bx'</text>
<line x1="1609.9" y1="1680.9" x2="1632.3" y2="1680.9" stroke="#008000" stroke-width="2.08"/>
<text x="1648.2" y="1686.2" font-size="14.78" text-anchor="start">By'</text>
<line x1="1609.9" y1="1702.7" x2="1632.3" y2="1702.7" stroke="#0000ff" stroke-width="2.08"/>
<text x="1648.2" y="1708" font-size="14.78" text-anchor="start">Bz'</text>
<line x1="1609.9" y1="1724.6" x2="1632.3" y2="1724.6" stroke="#000000" stroke-width="2.08"/>
<text x="1648.2" y="1729.9" font-size="14.78" text-anchor="start">|B|</text>
<clipPath id="c9"><rect x="117" y="1972" width="1566" height="222"/></clipPath>
<polyline points="117,1995.9 259.36,1995.9 401.73,1995.9 544.09,1995.9 686.45,1995.9 828.82,1996.7 971.18,1988.7 1113.55,1987.5 1255.91,1989.8 1398.27,1989.1 1540.64,1987.2 1683,1988" fill="none" stroke="#ff0000" stroke-width="2.08" stroke-linejoin="round" stroke-linecap="butt" clip-path="url(#c9)"/>
<polyline points="117,2158.9 259.36,2168.5 401.73,2164.1 544.09,2154.5 686.45,2155.7 828.82,2169.7 971.18,2168.1 1113.55,2166.9 1255.91,2162.3 1398.27,2160.8 1540.64,2175.6 1683,2169.7" fill="none" stroke="#008000" stroke-width="2.08" stroke-linejoin="round" stroke-linecap="butt" clip-path="url(#c9)"/>
<polyline points="117,2155.7 259.36,2163.7 401.73,2162.1 544.09,2158.1 686.45,2155.7 828.82,2159.3 971.18,2177.2 1113.55,2192.4 1255.91,2180.4 1398.27,2170.1 1540.64,2187.5 1683,2188.6" fill="none" stroke="#0000ff" stroke-width="2.08" stroke-linejoin="round" stroke-linecap="butt" clip-path="url(#c9)"/>
<rect x="117" y="1972" width="1566" height="222" fill="none" stroke="#000" stroke-width="2"/>
<line x1="117" y1="2194.5" x2="125.33" y2="2194.5" stroke="#000000" stroke-width="1.04"/>
<line x1="1683" y1="2194.5" x2="1674.67" y2="2194.5" stroke="#000000" stroke-width="1.04"/>
<text x="107.9" y="2198.85" font-size="16.67" text-anchor="end">−100</text>
<line x1="117" y1="2169.5" x2="125.33" y2="2169.5" stroke="#000000" stroke-width="1.04"/>
<line x1="1683" y1="2169.5" x2="1674.67" y2="2169.5" stroke="#000000" stroke-width="1.04"/>
<text x="107.9" y="2174.18" font-size="16.67" text-anchor="end">−50</text>
<line x1="117" y1="2145.5" x2="125.33" y2="2145.5" stroke="#000000" stroke-width="1.04"/>
<line x1="1683" y1="2145.5" x2="1674.67" y2="2145.5" stroke="#000000" stroke-width="1.04"/>
<text x="107.9" y="2149.52" font-size="16.67" text-anchor="end">0</text>
<line x1="117" y1="2120.5" x2="125.33" y2="2120.5" stroke="#000000" stroke-width="1.04"/>
<line x1="1683" y1="2120.5" x2="1674.67" y2="2120.5" stroke="#000000" stroke-width="1.04"/>
<text x="107.9" y="2124.85" font-size="16.67" text-anchor="end">50</text>
<line x1="117" y1="2095.5" x2="125.33" y2="2095.5" stroke="#000000" stroke-width="1.04"/>
<line x1="1683" y1="2095.5" x2="1674.67" y2="2095.5" stroke="#000000" stroke-width="1.04"/>
<text x="107.9" y="2100.18" font-size="16.67" text-anchor="end">100</text>
<line x1="117" y1="2071.5" x2="125.33" y2="2071.5" stroke="#000000" stroke-width="1.04"/>
<line x1="1683" y1="2071.5" x2="1674.67" y2="2071.5" stroke="#000000" stroke-width="1.04"/>
<text x="107.9" y="2075.52" font-size="16.67" text-anchor="end">150</text>
<line x1="117" y1="2046.5" x2="125.33" y2="2046.5" stroke="#000000" stroke-width="1.04"/>
<line x1="1683" y1="2046.5" x2="1674.67" y2="2046.5" stroke="#000000" stroke-width="1.04"/>
<text x="107.9" y="2050.85" font-size="16.67" text-anchor="end">200</text>
<line x1="117" y1="2021.5" x2="125.33" y2="2021.5" stroke="#000000" stroke-width="1.04"/>
<line x1="1683" y1="2021.5" x2="1674.67" y2="2021.5" stroke="#000000" stroke-width="1.04"/>
<text x="107.9" y="2026.18" font-size="16.67" text-anchor="end">250</text>
<line x1="117" y1="1997.5" x2="125.33" y2="1997.5" stroke="#000000" stroke-width="1.04"/>
<line x1="1683" y1="1997.5" x2="1674.67" y2="1997.5" stroke="#000000" stroke-width="1.04"/>
<text x="107.9" y="2001.52" font-size="16.67" text-anchor="end">300</text>
<line x1="117" y1="1972.5" x2="125.33" y2="1972.5" stroke="#000000" stroke-width="1.04"/>
<line x1="1683" y1="1972.5" x2="1674.67" y2="1972.5" stroke="#000000" stroke-width="1.04"/>
<text x="107.9" y="1976.85" font-size="16.67" text-anchor="end">350</text>
<line x1="686.5" y1="2194" x2="686.5" y2="2185.67" stroke="#000000" stroke-width="1.04"/>
<line x1="686.5" y1="1972" x2="686.5" y2="1980.33" stroke="#000000" stroke-width="1.04"/>
<text x="686.45" y="2215.6" font-size="16.67" text-anchor="middle">12/28 21:49:33</text>
<line x1="1398.5" y1="2194" x2="1398.5" y2="2185.67" stroke="#000000" stroke-width="1.04"/>
<line x1="1398.5" y1="1972" x2="1398.5" y2="1980.33" stroke="#000000" stroke-width="1.04"/>
<text x="1398.27" y="2215.6" font-size="16.67" text-anchor="middle">12/28 21:49:38</text>
<text x="900" y="1961.7" font-size="22.92" text-anchor="middle">Solar Wind Velocity (RTN Frame)</text>
<text x="-2127.93" y="48" font-size="16.67" font-family="'DejaVu Sans'" transform="rotate(-90)">Vsw(km/s)</text>
<rect x="1604" y="1978.4" width="72" height="72.5" fill="#fff" stroke="#000" stroke-width="2"/>
<line x1="1613" y1="1991.7" x2="1635.2" y2="1991.7" stroke="#ff0000" stroke-width="2.08"/>
<text x="1650.8" y="1997" font-size="14.78" text-anchor="start">Vr</text>
<line x1="1613" y1="2013.9" x2="1635.2" y2="2013.9" stroke="#008000" stroke-width="2.08"/>
<text x="1650.8" y="2019.2" font-size="14.78" text-anchor="start">Vt</text>
<line x1="1613" y1="2036.1" x2="1635.2" y2="2036.1" stroke="#0000ff" stroke-width="2.08"/>
<text x="1650.8" y="2041.4" font-size="14.78" text-anchor="start">Vn</text>
<clipPath id="c10"><rect x="117" y="2306" width="1566" height="222"/></clipPath>
<polyline points="117,2499.4 259.36,2501 401.73,2504.6 544.09,2489 686.45,2491.3 828.82,2517.2 971.18,2327.5 1113.55,2479 1255.91,2494.7 1398.27,2468 1540.64,2461.7 1683,2454" fill="none" stroke="#0000ff" stroke-width="2.08" stroke-linejoin="round" stroke-linecap="butt" clip-path="url(#c10)"/>
<rect x="117" y="2306" width="1566" height="222" fill="none" stroke="#000" stroke-width="2"/>
<line x1="117" y1="2528.5" x2="125.33" y2="2528.5" stroke="#000000" stroke-width="1.04"/>
<line x1="1683" y1="2528.5" x2="1674.67" y2="2528.5" stroke="#000000" stroke-width="1.04"/>
<text x="107.9" y="2532.85" font-size="16.67" text-anchor="end">0.04</text>
<line x1="117" y1="2491.5" x2="125.33" y2="2491.5" stroke="#000000" stroke-width="1.04"/>
<line x1="1683" y1="2491.5" x2="1674.67" y2="2491.5" stroke="#000000" stroke-width="1.04"/>
<text x="107.9" y="2495.85" font-size="16.67" text-anchor="end">0.06</text>
<line x1="117" y1="2454.5" x2="125.33" y2="2454.5" stroke="#000000" stroke-width="1.04"/>
<line x1="1683" y1="2454.5" x2="1674.67" y2="2454.5" stroke="#000000" stroke-width="1.04"/>
<text x="107.9" y="2458.85" font-size="16.67" text-anchor="end">0.08</text>
<line x1="117" y1="2417.5" x2="125.33" y2="2417.5" stroke="#000000" stroke-width="1.04"/>
<line x1="1683" y1="2417.5" x2="1674.67" y2="2417.5" stroke="#000000" stroke-width="1.04"/>
<text x="107.9" y="2421.85" font-size="16.67" text-anchor="end">0.10</text>
<line x1="117" y1="2380.5" x2="125.33" y2="2380.5" stroke="#000000" stroke-width="1.04"/>
<line x1="1683" y1="2380.5" x2="1674.67" y2="2380.5" stroke="#000000" stroke-width="1.04"/>
<text x="107.9" y="2384.85" font-size="16.67" text-anchor="end">0.12</text>
<line x1="117" y1="2343.5" x2="125.33" y2="2343.5" stroke="#000000" stroke-width="1.04"/>
<line x1="1683" y1="2343.5" x2="1674.67" y2="2343.5" stroke="#000000" stroke-width="1.04"/>
<text x="107.9" y="2347.85" font-size="16.67" text-anchor="end">0.14</text>
<line x1="117" y1="2306.5" x2="125.33" y2="2306.5" stroke="#000000" stroke-width="1.04"/>
<line x1="1683" y1="2306.5" x2="1674.67" y2="2306.5" stroke="#000000" stroke-width="1.04"/>
<text x="107.9" y="2310.85" font-size="16.67" text-anchor="end">0.16</text>
<line x1="686.5" y1="2528" x2="686.5" y2="2519.67" stroke="#000000" stroke-width="1.04"/>
<line x1="686.5" y1="2306" x2="686.5" y2="2314.33" stroke="#000000" stroke-width="1.04"/>
<text x="686.45" y="2549.6" font-size="16.67" text-anchor="middle">12/28 21:49:33</text>
<line x1="1398.5" y1="2528" x2="1398.5" y2="2519.67" stroke="#000000" stroke-width="1.04"/>
<line x1="1398.5" y1="2306" x2="1398.5" y2="2314.33" stroke="#000000" stroke-width="1.04"/>
<text x="1398.27" y="2549.6" font-size="16.67" text-anchor="middle">12/28 21:49:38</text>
<text x="900" y="2295.7" font-size="22.92" text-anchor="middle">Plasma Beta</text>
<text x="-2424.5" y="53.1" font-size="16" font-family="'DejaVu Serif'" font-style="italic" transform="rotate(-90)">β</text>
<text x="-2415" y="54.9" font-size="10.2" font-family="'Liberation Serif'" font-style="italic" transform="rotate(-90)">p</text>
<clipPath id="c11"><rect x="117" y="2639" width="1566" height="222"/></clipPath>
<polyline points="117,2831.7 259.36,2807.8 401.73,2803 544.09,2815.7 686.45,2813.7 828.82,2848.4 971.18,2661.5 1113.55,2845.6 1255.91,2841.7 1398.27,2828 1540.64,2773.6 1683,2756.9" fill="none" stroke="#0000ff" stroke-width="2.08" stroke-linejoin="round" stroke-linecap="butt" clip-path="url(#c11)"/>
<rect x="117" y="2639" width="1566" height="222" fill="none" stroke="#000" stroke-width="2"/>
<line x1="117" y1="2861.5" x2="125.33" y2="2861.5" stroke="#000000" stroke-width="1.04"/>
<line x1="1683" y1="2861.5" x2="1674.67" y2="2861.5" stroke="#000000" stroke-width="1.04"/>
<text x="107.9" y="2865.85" font-size="16.67" text-anchor="end">75</text>
<line x1="117" y1="2817.5" x2="125.33" y2="2817.5" stroke="#000000" stroke-width="1.04"/>
<line x1="1683" y1="2817.5" x2="1674.67" y2="2817.5" stroke="#000000" stroke-width="1.04"/>
<text x="107.9" y="2821.45" font-size="16.67" text-anchor="end">80</text>
<line x1="117" y1="2772.5" x2="125.33" y2="2772.5" stroke="#000000" stroke-width="1.04"/>
<line x1="1683" y1="2772.5" x2="1674.67" y2="2772.5" stroke="#000000" stroke-width="1.04"/>
<text x="107.9" y="2777.05" font-size="16.67" text-anchor="end">85</text>
<line x1="117" y1="2728.5" x2="125.33" y2="2728.5" stroke="#000000" stroke-width="1.04"/>
<line x1="1683" y1="2728.5" x2="1674.67" y2="2728.5" stroke="#000000" stroke-width="1.04"/>
<text x="107.9" y="2732.65" font-size="16.67" text-anchor="end">90</text>
<line x1="117" y1="2683.5" x2="125.33" y2="2683.5" stroke="#000000" stroke-width="1.04"/>
<line x1="1683" y1="2683.5" x2="1674.67" y2="2683.5" stroke="#000000" stroke-width="1.04"/>
<text x="107.9" y="2688.25" font-size="16.67" text-anchor="end">95</text>
<line x1="117" y1="2639.5" x2="125.33" y2="2639.5" stroke="#000000" stroke-width="1.04"/>
<line x1="1683" y1="2639.5" x2="1674.67" y2="2639.5" stroke="#000000" stroke-width="1.04"/>
<text x="107.9" y="2643.85" font-size="16.67" text-anchor="end">100</text>
<line x1="686.5" y1="2861" x2="686.5" y2="2852.67" stroke="#000000" stroke-width="1.04"/>
<line x1="686.5" y1="2639" x2="686.5" y2="2647.33" stroke="#000000" stroke-width="1.04"/>
<text x="686.45" y="2882.6" font-size="16.67" text-anchor="middle">12/28 21:49:33</text>
<line x1="1398.5" y1="2861" x2="1398.5" y2="2852.67" stroke="#000000" stroke-width="1.04"/>
<line x1="1398.5" y1="2639" x2="1398.5" y2="2647.33" stroke="#000000" stroke-width="1.04"/>
<text x="1398.27" y="2882.6" font-size="16.67" text-anchor="middle">12/28 21:49:38</text>
<text x="900" y="2628.7" font-size="22.92" text-anchor="middle">Proton Number Density</text>
<text x="-2789.34" y="62.85" font-size="16.67" font-family="'DejaVu Sans'" transform="rotate(-90)">Np(#/cc)</text>
<clipPath id="c12"><rect x="117" y="2973" width="1566" height="222"/></clipPath>
<polyline points="117,3159.5 259.36,3165.5 401.73,3171.5 544.09,3147.9 686.45,3152.7 828.82,3181.4 971.18,2987.3 1113.55,3122.8 1255.91,3153.4 1398.27,3116 1540.64,3119.7 1683,3112.3" fill="none" stroke="#0000ff" stroke-width="2.08" stroke-linejoin="round" stroke-linecap="butt" clip-path="url(#c12)"/>
<rect x="117" y="2973" width="1566" height="222" fill="none" stroke="#000" stroke-width="2"/>
<line x1="117" y1="3195.5" x2="125.33" y2="3195.5" stroke="#000000" stroke-width="1.04"/>
<line x1="1683" y1="3195.5" x2="1674.67" y2="3195.5" stroke="#000000" stroke-width="1.04"/>
<text x="107.9" y="3199.85" font-size="16.67" text-anchor="end">0.08</text>
<line x1="117" y1="3167.5" x2="125.33" y2="3167.5" stroke="#000000" stroke-width="1.04"/>
<line x1="1683" y1="3167.5" x2="1674.67" y2="3167.5" stroke="#000000" stroke-width="1.04"/>
<text x="107.9" y="3172.1" font-size="16.67" text-anchor="end">0.10</text>
<line x1="117" y1="3140.5" x2="125.33" y2="3140.5" stroke="#000000" stroke-width="1.04"/>
<line x1="1683" y1="3140.5" x2="1674.67" y2="3140.5" stroke="#000000" stroke-width="1.04"/>
<text x="107.9" y="3144.35" font-size="16.67" text-anchor="end">0.12</text>
<line x1="117" y1="3112.5" x2="125.33" y2="3112.5" stroke="#000000" stroke-width="1.04"/>
<line x1="1683" y1="3112.5" x2="1674.67" y2="3112.5" stroke="#000000" stroke-width="1.04"/>
<text x="107.9" y="3116.6" font-size="16.67" text-anchor="end">0.14</text>
<line x1="117" y1="3084.5" x2="125.33" y2="3084.5" stroke="#000000" stroke-width="1.04"/>
<line x1="1683" y1="3084.5" x2="1674.67" y2="3084.5" stroke="#000000" stroke-width="1.04"/>
<text x="107.9" y="3088.85" font-size="16.67" text-anchor="end">0.16</text>
<line x1="117" y1="3056.5" x2="125.33" y2="3056.5" stroke="#000000" stroke-width="1.04"/>
<line x1="1683" y1="3056.5" x2="1674.67" y2="3056.5" stroke="#000000" stroke-width="1.04"/>
<text x="107.9" y="3061.1" font-size="16.67" text-anchor="end">0.18</text>
<line x1="117" y1="3029.5" x2="125.33" y2="3029.5" stroke="#000000" stroke-width="1.04"/>
<line x1="1683" y1="3029.5" x2="1674.67" y2="3029.5" stroke="#000000" stroke-width="1.04"/>
<text x="107.9" y="3033.35" font-size="16.67" text-anchor="end">0.20</text>
<line x1="117" y1="3001.5" x2="125.33" y2="3001.5" stroke="#000000" stroke-width="1.04"/>
<line x1="1683" y1="3001.5" x2="1674.67" y2="3001.5" stroke="#000000" stroke-width="1.04"/>
<text x="107.9" y="3005.6" font-size="16.67" text-anchor="end">0.22</text>
<line x1="117" y1="2973.5" x2="125.33" y2="2973.5" stroke="#000000" stroke-width="1.04"/>
<line x1="1683" y1="2973.5" x2="1674.67" y2="2973.5" stroke="#000000" stroke-width="1.04"/>
<text x="107.9" y="2977.85" font-size="16.67" text-anchor="end">0.24</text>
<line x1="686.5" y1="3195" x2="686.5" y2="3186.67" stroke="#000000" stroke-width="1.04"/>
<line x1="686.5" y1="2973" x2="686.5" y2="2981.33" stroke="#000000" stroke-width="1.04"/>
<text x="686.45" y="3216.6" font-size="16.67" text-anchor="middle">12/28 21:49:33</text>
<line x1="1398.5" y1="3195" x2="1398.5" y2="3186.67" stroke="#000000" stroke-width="1.04"/>
<line x1="1398.5" y1="2973" x2="1398.5" y2="2981.33" stroke="#000000" stroke-width="1.04"/>
<text x="1398.27" y="3216.6" font-size="16.67" text-anchor="middle">12/28 21:49:38</text>
<text x="727.45" y="2961" font-size="22.92" font-family="'DejaVu Sans'">Proton Temperature and</text>
<text x="1015.28" y="2960.7" font-size="21.5" font-family="'DejaVu Serif'" font-style="italic">T</text>
<text x="1030.24" y="2963.7" font-size="15" font-family="'Liberation Serif'" font-style="italic">e</text>
<text x="1040" y="2966.5" font-size="32" font-family="'Liberation Serif'">/</text>
<text x="1049.18" y="2960.7" font-size="21.5" font-family="'DejaVu Serif'" font-style="italic">T</text>
<text x="1063.31" y="2963.5" font-size="15.5" font-family="'Liberation Serif'" font-style="italic">p</text>
<text x="-3118.75" y="52.8" font-size="16.67" font-family="'DejaVu Sans'" transform="rotate(-90)">Tp</text>
<text x="-3097.97" y="51.5" font-size="17.5" font-family="'Liberation Serif'" transform="rotate(-90)">(</text>
<text x="-3092.14" y="52.7" font-size="17.5" font-family="'Liberation Serif'" transform="rotate(-90)">10</text>
<text x="-3074.29" y="46.8" font-size="11.5" font-family="'Liberation Serif'" transform="rotate(-90)">6</text>
<text x="-3066.9" y="53" font-size="17.5" font-family="'Liberation Serif'" transform="rotate(-90)">K)</text>
<rect x="124" y="2980" width="71.1" height="27" fill="#fff" stroke="#000" stroke-width="2"/>
<line x1="133.9" y1="2992.9" x2="156" y2="2992.9" stroke="#0000ff" stroke-width="2.08"/>
<text x="170.9" y="2998.2" font-size="14.78" text-anchor="start">Tp</text>
</svg>
</body></html>
